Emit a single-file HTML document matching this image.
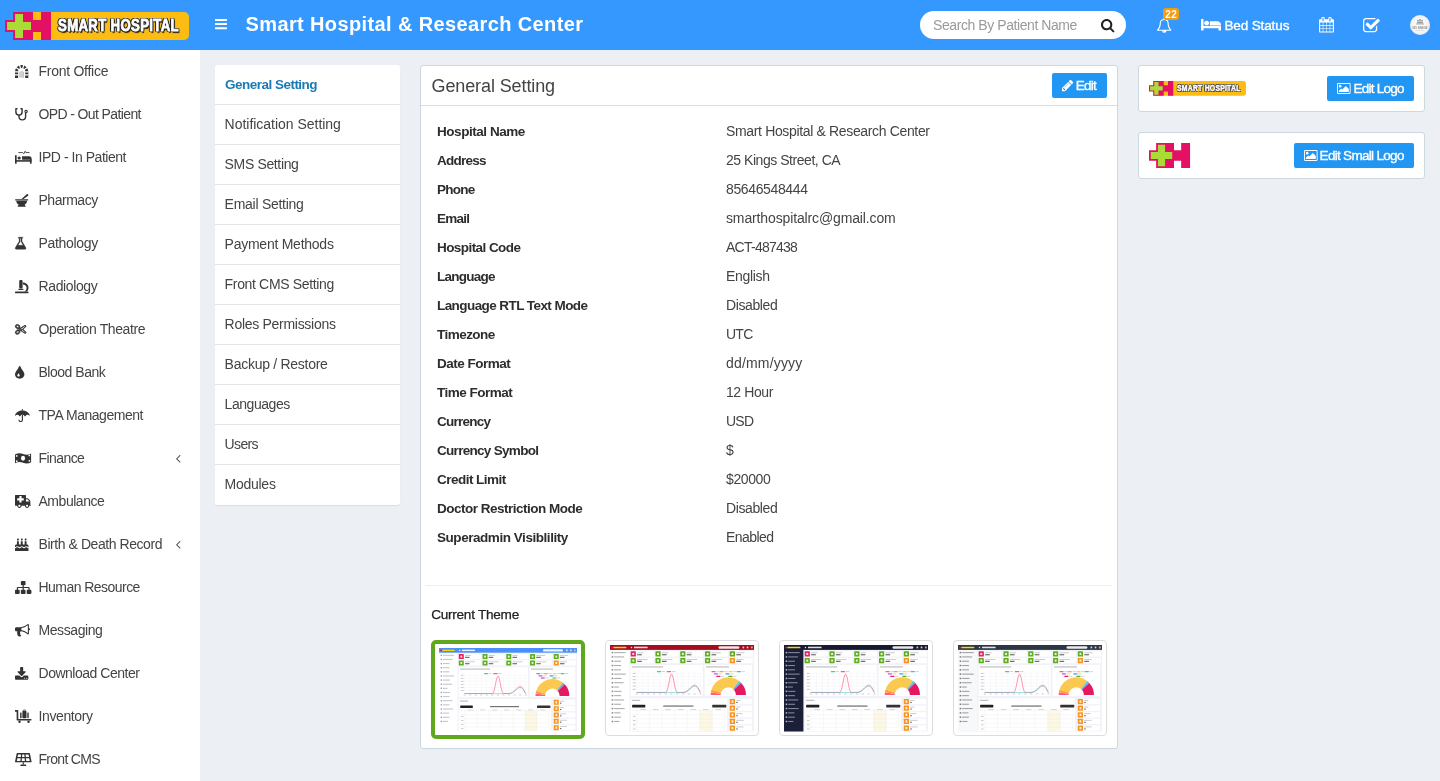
<!DOCTYPE html>
<html lang="en"><head><meta charset="utf-8"><title>General Setting</title>
<style>
html,body{margin:0;padding:0}
body{width:1440px;height:781px;overflow:hidden;background:#ecf0f5;font-family:"Liberation Sans",sans-serif;font-size:14px;color:#444;position:relative}
.t{position:absolute;white-space:nowrap;display:block}
.i{position:absolute;display:block;overflow:visible}
.abs{position:absolute;box-sizing:border-box}
#hdr{left:0;top:0;width:1440px;height:50px;background:#3598fe}
#side{left:0;top:50px;width:200px;height:731px;background:#fff}
.box{background:#fff;border:1px solid #cbd8e0;border-radius:3px}
.btn{background:#2196f3;border-radius:2px}
.mi{left:215px;width:185px;height:40px;background:#fff;border-bottom:1px solid #e2e2e2}
.th{border:1px solid #ddd;border-radius:4px;background:#fff}
</style></head><body>

<div class="abs" id="hdr"></div>
<div class="abs" id="side"></div>
<svg class="i" style="left:5px;top:12px;width:184.00px;height:28.00px" viewBox="0 0 184 28"><path fill="#fdbc12" d="M8 0H179a5 5 0 0 1 5 5V23a5 5 0 0 1-5 5H8z"/><path fill="#e31063" d="M8 0H28V8H36V0H46V28H36V20H28V28H8V20H0V8H8z"/><path fill="#a9dc37" d="M10 2H18V10H26V18H18V26H10V18H2V10H10z"/></svg>
<span class="t" id="t0" style="left:58.3px;top:18.11px;font-size:15.7px;line-height:15.7px;color:#fff;font-weight:bold;letter-spacing:0.407px;-webkit-text-stroke:.8px #fff;text-shadow:-1.2px -1.2px 0 #222,1.2px -1.2px 0 #222,-1.2px 1.2px 0 #222,1.2px 1.2px 0 #222,0 1.4px 0 #222,0 -1.4px 0 #222,1.5px 0 0 #222,-1.5px 0 0 #222,1.4px 1.8px 1px #222;transform-origin:0 0;transform:scaleX(.84);">SMART HOSPITAL</span>
<svg class="i" style="left:215px;top:19.3px;width:12.00px;height:10.20px" viewBox="0.0 -1280.0 1536 1280" preserveAspectRatio="none"><path fill="#fff" transform="scale(1,-1)" d="M1536 192C1536 227 1507 256 1472 256H64C29 256 0 227 0 192V64C0 29 29 0 64 0H1472C1507 0 1536 29 1536 64ZM1536 704C1536 739 1507 768 1472 768H64C29 768 0 739 0 704V576C0 541 29 512 64 512H1472C1507 512 1536 541 1536 576ZM1536 1216C1536 1251 1507 1280 1472 1280H64C29 1280 0 1251 0 1216V1088C0 1053 29 1024 64 1024H1472C1507 1024 1536 1053 1536 1088Z"/></svg>
<span class="t" id="t1" style="left:245.5px;top:14.07px;font-size:20px;line-height:20px;color:#fff;font-weight:bold;letter-spacing:0.382px;">Smart Hospital &amp; Research Center</span>
<div class="abs" style="left:920px;top:11px;width:206px;height:28px;border-radius:14px;background:#fff"></div>
<span class="t" id="t2" style="left:933px;top:18.15px;font-size:14px;line-height:14px;color:#9a9a9a;letter-spacing:-0.424px;">Search By Patient Name</span>
<svg class="i" style="left:1101.3px;top:18.6px;width:13.40px;height:13.40px" viewBox="0.0 -1408.0 1664 1664" preserveAspectRatio="none"><path fill="#222" transform="scale(1,-1)" d="M1152 704C1152 457 951 256 704 256C457 256 256 457 256 704C256 951 457 1152 704 1152C951 1152 1152 951 1152 704ZM1664 -128C1664 -94 1650 -61 1627 -38L1284 305C1365 422 1408 562 1408 704C1408 1093 1093 1408 704 1408C315 1408 0 1093 0 704C0 315 315 0 704 0C846 0 986 43 1103 124L1446 -218C1469 -242 1502 -256 1536 -256C1606 -256 1664 -198 1664 -128Z"/></svg>
<svg class="i" style="left:1157px;top:17.6px;width:14.40px;height:14.80px" viewBox="64.0 -1536.0 1664 1792" preserveAspectRatio="none"><path fill="#fff" transform="scale(1,-1)" d="M912 -160C912 -169 905 -176 896 -176C799 -176 720 -97 720 0C720 9 727 16 736 16C745 16 752 9 752 0C752 -79 817 -144 896 -144C905 -144 912 -151 912 -160ZM246 128C425 330 512 604 512 960C512 1089 634 1280 896 1280C1158 1280 1280 1089 1280 960C1280 604 1367 330 1546 128ZM1728 128C1580 253 1408 477 1408 960C1408 1152 1249 1362 984 1401C989 1413 992 1426 992 1440C992 1493 949 1536 896 1536C843 1536 800 1493 800 1440C800 1426 803 1413 808 1401C543 1362 384 1152 384 960C384 477 212 253 64 128C64 58 122 0 192 0H640C640 -141 755 -256 896 -256C1037 -256 1152 -141 1152 0H1600C1670 0 1728 58 1728 128Z"/></svg>
<div class="abs" style="left:1163px;top:8px;width:16px;height:12px;border-radius:3px;background:#f39c12"></div>
<span class="t" id="t3" style="left:1165.3px;top:9.54px;font-size:10px;line-height:10px;color:#fff;font-weight:bold;letter-spacing:0.475px;">22</span>
<svg class="i" style="left:1200.8px;top:18.8px;width:20.00px;height:11.60px" viewBox="0.0 -1280.0 2048 1280" preserveAspectRatio="none"><path fill="#fff" transform="scale(1,-1)" d="M256 512V1216C256 1251 227 1280 192 1280H64C29 1280 0 1251 0 1216V0H256V256H1792V0H2048V448C2048 483 2019 512 1984 512ZM832 832C832 691 717 576 576 576C435 576 320 691 320 832C320 973 435 1088 576 1088C717 1088 832 973 832 832ZM2048 576H896V960C896 995 925 1024 960 1024H1664C1876 1024 2048 852 2048 640Z"/></svg>
<span class="t" id="t4" style="left:1224.4px;top:18.57px;font-size:13.5px;line-height:13.5px;color:#fff;letter-spacing:-0.116px;-webkit-text-stroke:.35px #fff;">Bed Status</span>
<svg class="i" style="left:1319.2px;top:16.8px;width:15.00px;height:15.60px" viewBox="0.0 -1536.0 1664 1792" preserveAspectRatio="none"><path fill="#fff" transform="scale(1,-1)" d="M128 -128V160H416V-128ZM480 -128V160H800V-128ZM128 224V544H416V224ZM480 224V544H800V224ZM128 608V896H416V608ZM864 -128V160H1184V-128ZM480 608V896H800V608ZM1248 -128V160H1536V-128ZM864 224V544H1184V224ZM512 1088C512 1071 497 1056 480 1056H416C399 1056 384 1071 384 1088V1376C384 1393 399 1408 416 1408H480C497 1408 512 1393 512 1376V1088ZM1248 224V544H1536V224ZM864 608V896H1184V608ZM1248 608V896H1536V608ZM1280 1088C1280 1071 1265 1056 1248 1056H1184C1167 1056 1152 1071 1152 1088V1376C1152 1393 1167 1408 1184 1408H1248C1265 1408 1280 1393 1280 1376V1088ZM1664 1152C1664 1222 1606 1280 1536 1280H1408V1376C1408 1464 1336 1536 1248 1536H1184C1096 1536 1024 1464 1024 1376V1280H640V1376C640 1464 568 1536 480 1536H416C328 1536 256 1464 256 1376V1280H128C58 1280 0 1222 0 1152V-128C0 -198 58 -256 128 -256H1536C1606 -256 1664 -198 1664 -128Z"/></svg>
<svg class="i" style="left:1363.3px;top:17.8px;width:16.80px;height:14.20px" viewBox="0.0 -1408.0 1663.0 1408" preserveAspectRatio="none"><path fill="#fff" transform="scale(1,-1)" d="M1408 606C1408 619 1400 630 1388 635C1384 637 1380 638 1376 638C1368 638 1360 635 1353 628L1289 564C1283 558 1280 550 1280 542V288C1280 200 1208 128 1120 128H288C200 128 128 200 128 288V1120C128 1208 200 1280 288 1280H1120C1135 1280 1150 1278 1165 1274C1168 1273 1171 1272 1174 1272C1182 1272 1191 1276 1197 1282L1246 1331C1254 1339 1257 1349 1255 1360C1253 1370 1246 1379 1237 1383C1200 1400 1160 1408 1120 1408H288C129 1408 0 1279 0 1120V288C0 129 129 0 288 0H1120C1279 0 1408 129 1408 288ZM1639 1095C1671 1127 1671 1177 1639 1209L1529 1319C1497 1351 1447 1351 1415 1319L768 672L505 935C473 967 423 967 391 935L281 825C249 793 249 743 281 711L711 281C743 249 793 249 825 281L1639 1095Z"/></svg>
<svg class="i" style="left:1410px;top:15px;width:20px;height:20px" viewBox="0 0 20 20"><defs><radialGradient id="av"><stop offset="0" stop-color="#fff"/><stop offset=".7" stop-color="#f6f6f6"/><stop offset="1" stop-color="#ececec"/></radialGradient></defs><circle cx="10" cy="10" r="10" fill="url(#av)"/><g fill="#9a9a9a"><circle cx="10" cy="5" r="1.1"/><circle cx="7.9" cy="5.6" r=".9"/><circle cx="12.1" cy="5.6" r=".9"/><path d="M6.6 8.6c0-1.6 1-2.2 3.4-2.2s3.4.6 3.4 2.2z"/><rect x="6" y="8.7" width="8" height=".7"/><rect x="6" y="15.1" width="8" height=".4" opacity=".6"/></g><text x="10" y="13.6" text-anchor="middle" font-family="Liberation Sans, sans-serif" font-weight="bold" font-size="3" fill="#8d8d8d">NO IMAGE</text></svg>
<span class="t" id="t5" style="left:38.5px;top:64.15px;font-size:14px;line-height:14px;color:#444;letter-spacing:-0.263px;">Front Office</span>
<span class="t" id="t6" style="left:38.5px;top:107.15px;font-size:14px;line-height:14px;color:#444;letter-spacing:-0.614px;">OPD - Out Patient</span>
<span class="t" id="t7" style="left:38.5px;top:150.15px;font-size:14px;line-height:14px;color:#444;letter-spacing:-0.463px;">IPD - In Patient</span>
<span class="t" id="t8" style="left:38.5px;top:193.15px;font-size:14px;line-height:14px;color:#444;letter-spacing:-0.476px;">Pharmacy</span>
<span class="t" id="t9" style="left:38.5px;top:236.15px;font-size:14px;line-height:14px;color:#444;letter-spacing:-0.323px;">Pathology</span>
<span class="t" id="t10" style="left:38.5px;top:279.15px;font-size:14px;line-height:14px;color:#444;letter-spacing:-0.383px;">Radiology</span>
<span class="t" id="t11" style="left:38.5px;top:322.15px;font-size:14px;line-height:14px;color:#444;letter-spacing:-0.398px;">Operation Theatre</span>
<span class="t" id="t12" style="left:38.5px;top:365.15px;font-size:14px;line-height:14px;color:#444;letter-spacing:-0.479px;">Blood Bank</span>
<span class="t" id="t13" style="left:38.5px;top:408.15px;font-size:14px;line-height:14px;color:#444;letter-spacing:-0.464px;">TPA Management</span>
<span class="t" id="t14" style="left:38.5px;top:451.15px;font-size:14px;line-height:14px;color:#444;letter-spacing:-0.569px;">Finance</span>
<span class="t" id="t15" style="left:38.5px;top:494.15px;font-size:14px;line-height:14px;color:#444;letter-spacing:-0.468px;">Ambulance</span>
<span class="t" id="t16" style="left:38.5px;top:537.15px;font-size:14px;line-height:14px;color:#444;letter-spacing:-0.437px;">Birth &amp; Death Record</span>
<span class="t" id="t17" style="left:38.5px;top:580.15px;font-size:14px;line-height:14px;color:#444;letter-spacing:-0.541px;">Human Resource</span>
<span class="t" id="t18" style="left:38.5px;top:623.15px;font-size:14px;line-height:14px;color:#444;letter-spacing:-0.413px;">Messaging</span>
<span class="t" id="t19" style="left:38.5px;top:666.15px;font-size:14px;line-height:14px;color:#444;letter-spacing:-0.484px;">Download Center</span>
<span class="t" id="t20" style="left:38.5px;top:709.15px;font-size:14px;line-height:14px;color:#444;letter-spacing:-0.387px;">Inventory</span>
<span class="t" id="t21" style="left:38.5px;top:752.15px;font-size:14px;line-height:14px;color:#444;letter-spacing:-0.711px;">Front CMS</span>
<svg class="i" style="left:14.9px;top:64.7px;width:13.3px;height:13px" viewBox="0 0 512 512" preserveAspectRatio="none"><path d="M60 512V256a196 196 0 0 1 392 0V512" fill="none" stroke="#333" stroke-width="120"/><path d="M353 185L474 97 M293 142L339 -1 M219 142L173 -1 M159 185L38 97 M0 268H130M382 268H512M0 392H130M382 392H512" stroke="#fff" stroke-width="46" fill="none"/><path d="M186 500V270M232 500V230M280 500V230M326 500V270" stroke="#333" stroke-width="20" fill="none" opacity=".6"/></svg><svg class="i" style="left:14.9px;top:107.9px;width:13.5px;height:12.6px" viewBox="0 0 135 126" preserveAspectRatio="none"><g fill="none" stroke="#333" stroke-width="14" stroke-linecap="round" stroke-linejoin="round"><path d="M20 8H9V40a31 31 0 0 0 62 0V8H60"/>
<path d="M40 72V86a33 33 0 0 0 66 0V52"/><circle cx="111" cy="36" r="12" stroke-width="11"/></g></svg><svg class="i" style="left:14.9px;top:150.9px;width:16.6px;height:12.7px" viewBox="0 0 640 512" preserveAspectRatio="none"><g fill="#333"><rect x="0" y="170" width="64" height="342"/><rect x="0" y="368" width="640" height="64"/><rect x="576" y="330" width="64" height="182"/>
<path d="M272 208H540a100 100 0 0 1 100 100V352H272z"/><circle cx="160" cy="280" r="62"/></g>
<path d="M130 64H300L340 110L390 10L420 64H560" fill="none" stroke="#333" stroke-width="34" stroke-linejoin="round"/></svg><svg class="i" style="left:14.9px;top:193.9px;width:13.3px;height:12.7px" viewBox="0 0 512 512" preserveAspectRatio="none"><g fill="#333"><path d="M500 10a40 40 0 0 1 4 56L330 200H250L450 14a40 40 0 0 1 50-4z"/>
<rect x="0" y="208" width="512" height="56" rx="20"/>
<path d="M48 272H464c0 80-40 130-96 160l40 50v30H104v-30l40-50C88 402 48 352 48 272z"/></g></svg><svg class="i" style="left:15.2px;top:236.9px;width:11.20px;height:12.50px" viewBox="77.95903300497424 -1433.0 1508.0819339900515 1586" preserveAspectRatio="none"><path fill="#333" stroke="#333" stroke-width="50" stroke-linejoin="round" transform="scale(1,-1)" d="M1527 88 1024 881V1280H1088C1123 1280 1152 1309 1152 1344C1152 1379 1123 1408 1088 1408H576C541 1408 512 1379 512 1344C512 1309 541 1280 576 1280H640V881L137 88C62 -31 115 -128 256 -128H1408C1549 -128 1602 -31 1527 88ZM748 813 768 844V881V1280H896V881V844L916 813L1188 384H476Z"/></svg><svg class="i" style="left:14.9px;top:279.6px;width:13.5px;height:13.2px" viewBox="0 0 512 512" preserveAspectRatio="none"><g fill="#333"><rect x="160" y="0" width="128" height="330" rx="40"/><rect x="130" y="340" width="188" height="44" rx="10"/>
<rect x="0" y="448" width="512" height="64" rx="16"/>
<path d="M300 100c120 0 212 90 212 200 0 70-30 120-70 150H350c50-30 90-80 90-150 0-70-60-130-140-130z"/></g></svg><svg class="i" style="left:15.1px;top:323.5px;width:11.50px;height:10.70px" viewBox="-55.02830677857321 -1335.0 1902.3025556225034 1518" preserveAspectRatio="none"><path fill="#333" stroke="#333" stroke-width="110" stroke-linejoin="round" transform="scale(1,-1)" d="M960 640C925 640 896 611 896 576C896 541 925 512 960 512C995 512 1024 541 1024 576C1024 611 995 640 960 640ZM1260 576 1767 974C1785 987 1794 1009 1792 1030C1789 1052 1776 1071 1757 1081L1629 1145C1620 1150 1610 1152 1600 1152C1589 1152 1578 1149 1569 1144L879 757L769 823C765 825 761 827 757 828C766 859 770 892 767 925C758 1028 689 1127 579 1196C494 1250 396 1280 302 1280C212 1280 136 1253 80 1201C23 1149 -6 1073 1 995C10 893 79 794 188 724C273 670 372 640 466 640C522 640 573 651 617 671C623 662 630 655 639 649L761 576L639 503C630 497 623 490 617 481C573 501 522 512 466 512C372 512 273 482 188 428C79 358 10 259 1 157C-6 79 23 3 80 -50C136 -101 212 -128 302 -128C396 -128 494 -98 579 -44C689 26 758 124 767 227C770 260 766 293 757 324C761 325 765 327 769 329L879 395L1569 8C1578 3 1589 0 1600 0C1610 0 1620 2 1629 7L1757 71C1776 81 1789 100 1792 122C1794 143 1785 165 1767 178ZM579 836C553 812 512 800 466 800C405 800 335 820 274 859C166 927 128 1028 189 1084C215 1108 256 1120 302 1120C362 1120 433 1100 494 1061C602 993 640 892 579 836ZM494 91C433 52 362 32 302 32C256 32 215 44 189 68C128 124 166 225 274 293C335 332 405 352 466 352C512 352 553 340 579 316C640 260 602 159 494 91ZM672 704 681 713C683 715 685 716 688 719C696 726 702 734 710 742L736 768L815 721L801 713C781 701 768 680 768 657V646ZM896 480 736 384 710 410C702 418 696 426 688 434C685 436 683 437 681 440L672 448L832 544V657L1600 1088L1728 1024L992 448ZM1600 64 1018 391C1023 393 1028 394 1031 398L1208 536L1728 128Z"/></svg><svg class="i" style="left:14.9px;top:365.6px;width:9.40px;height:12.80px" viewBox="0.0 -1472.0 1024 1472" preserveAspectRatio="none"><path fill="#333" transform="scale(1,-1)" d="M512 384C512 313 455 256 384 256C313 256 256 313 256 384C256 409 264 433 276 453C289 473 342 541 363 608C366 619 376 624 384 624C392 624 402 619 405 608C426 541 479 473 492 453C504 433 512 409 512 384ZM1024 512C1024 613 994 707 943 787C892 867 678 1138 597 1408C585 1451 544 1472 512 1472C480 1472 440 1451 427 1408C346 1138 132 867 81 787C31 707 0 613 0 512C0 229 229 0 512 0C795 0 1024 229 1024 512Z"/></svg><svg class="i" style="left:14.9px;top:408.6px;width:14.80px;height:13.00px" viewBox="0.0 -1472.0 1664 1600" preserveAspectRatio="none"><path fill="#333" transform="scale(1,-1)" d="M896 708C875 715 854 719 832 719C810 719 789 715 768 708V128C768 61 707 0 640 0C573 0 512 61 512 128C512 163 483 192 448 192C413 192 384 163 384 128C384 -11 501 -128 640 -128C779 -128 896 -11 896 128ZM1664 681C1664 684 1664 686 1663 688C1573 1066 1204 1280 832 1280C458 1280 93 1066 1 688C0 686 0 684 0 681C0 664 15 649 32 649C41 649 48 653 55 659C113 713 167 751 250 751C345 751 427 692 481 617C493 600 502 582 513 565C520 554 528 548 541 548C555 548 563 554 570 565C581 582 590 600 602 617C656 692 737 751 832 751C927 751 1008 692 1062 617C1074 600 1083 582 1094 565C1101 554 1109 548 1123 548C1136 548 1144 554 1151 565C1162 582 1171 600 1183 617C1237 692 1319 751 1414 751C1497 751 1551 713 1609 659C1616 653 1623 649 1632 649C1649 649 1664 664 1664 681ZM896 1408C896 1443 867 1472 832 1472C797 1472 768 1443 768 1408V1310C789 1311 811 1312 832 1312C853 1312 875 1311 896 1310Z"/></svg><svg class="i" style="left:14.9px;top:452.5px;width:16.1px;height:10.7px" viewBox="0 0 640 420" preserveAspectRatio="none"><path fill="#333" d="M0 60C110 0 210 0 320 40S530 80 640 20V360C530 420 430 420 320 380S110 340 0 400z"/>
<ellipse cx="320" cy="210" rx="82" ry="98" fill="#fff"/>
<circle cx="70" cy="115" r="34" fill="#fff"/><circle cx="570" cy="95" r="34" fill="#fff"/><circle cx="70" cy="320" r="34" fill="#fff"/><circle cx="570" cy="305" r="34" fill="#fff"/></svg><svg class="i" style="left:15.1px;top:494.6px;width:15.90px;height:13.00px" viewBox="64.0 -1408.0 1856 1536" preserveAspectRatio="none"><path fill="#333" transform="translate(1984,0) scale(-1,-1)" d="M640 128C640 57 583 0 512 0C441 0 384 57 384 128C384 199 441 256 512 256C583 256 640 199 640 128ZM256 640V670C257 676 262 687 265 692L460 887C465 891 476 895 482 896H640V640ZM1536 128C1536 57 1479 0 1408 0C1337 0 1280 57 1280 128C1280 199 1337 256 1408 256C1479 256 1536 199 1536 128ZM1664 800C1664 782 1650 768 1632 768H1408V544C1408 526 1394 512 1376 512H1184C1166 512 1152 526 1152 544V768H928C910 768 896 782 896 800V992C896 1010 910 1024 928 1024H1152V1248C1152 1266 1166 1280 1184 1280H1376C1394 1280 1408 1266 1408 1248V1024H1632C1650 1024 1664 1010 1664 992V800ZM1920 1344C1920 1379 1891 1408 1856 1408H704C669 1408 640 1379 640 1344V1024H480C445 1024 396 1004 371 979L173 781C148 756 128 707 128 672V256C93 256 64 227 64 192C64 157 93 128 128 128H256C256 -13 370 -128 512 -128C654 -128 768 -13 768 128H1152C1152 -13 1267 -128 1408 -128C1550 -128 1664 -13 1664 128H1856C1891 128 1920 157 1920 192Z"/></svg><svg class="i" style="left:14.9px;top:537.9px;width:13.50px;height:12.90px" viewBox="0.0 -1536.0 1792 1792" preserveAspectRatio="none"><path fill="#333" transform="scale(1,-1)" d="M1792 128C1694 128 1642 172 1601 207C1567 237 1544 256 1494 256C1443 256 1420 237 1386 207C1345 172 1293 128 1195 128C1097 128 1045 172 1004 207C970 237 947 256 896 256C845 256 823 237 789 207C747 172 696 128 598 128C499 128 448 172 407 207C372 237 350 256 299 256C248 256 225 237 191 207C150 172 98 128 0 128V-256H1792ZM1792 448C1792 554 1706 640 1600 640H1536V1088H1280V640H1024V1088H768V640H512V1088H256V640H192C86 640 0 554 0 448V256C51 256 74 275 108 305C149 340 200 384 299 384C397 384 449 340 490 305C524 275 547 256 598 256C649 256 671 275 705 305C747 340 798 384 896 384C995 384 1046 340 1087 305C1121 275 1144 256 1195 256C1246 256 1268 275 1303 305C1344 340 1395 384 1494 384C1592 384 1643 340 1684 305C1719 275 1741 256 1792 256ZM512 1312C512 1418 432 1536 384 1536C384 1372 256 1404 256 1280C256 1209 313 1152 384 1152C455 1152 512 1206 512 1312ZM1024 1312C1024 1418 944 1536 896 1536C896 1372 768 1404 768 1280C768 1209 825 1152 896 1152C967 1152 1024 1206 1024 1312ZM1536 1312C1536 1418 1456 1536 1408 1536C1408 1372 1280 1404 1280 1280C1280 1209 1337 1152 1408 1152C1479 1152 1536 1206 1536 1312Z"/></svg><svg class="i" style="left:14.9px;top:580.6px;width:16.40px;height:13.00px" viewBox="0.0 -1408.0 1792 1536" preserveAspectRatio="none"><path fill="#333" transform="scale(1,-1)" d="M1792 288C1792 341 1749 384 1696 384H1600V576C1600 646 1542 704 1472 704H960V896H1056C1109 896 1152 939 1152 992V1312C1152 1365 1109 1408 1056 1408H736C683 1408 640 1365 640 1312V992C640 939 683 896 736 896H832V704H320C250 704 192 646 192 576V384H96C43 384 0 341 0 288V-32C0 -85 43 -128 96 -128H416C469 -128 512 -85 512 -32V288C512 341 469 384 416 384H320V576H832V384H736C683 384 640 341 640 288V-32C640 -85 683 -128 736 -128H1056C1109 -128 1152 -85 1152 -32V288C1152 341 1109 384 1056 384H960V576H1472V384H1376C1323 384 1280 341 1280 288V-32C1280 -85 1323 -128 1376 -128H1696C1749 -128 1792 -85 1792 -32Z"/></svg><svg class="i" style="left:14.9px;top:623.9px;width:15.00px;height:12.50px" viewBox="0.0 -1408.0 1792 1535.8903772551337" preserveAspectRatio="none"><path fill="#333" transform="scale(1,-1)" d="M1664 896V1280C1664 1350 1606 1408 1536 1408C1344 1248 1024 1024 640 1024H160C72 1024 0 952 0 864V672C0 584 72 512 160 512H282C212 287 298 109 356 -69C448 -154 706 -152 768 -30C662 53 572 134 642 249C564 329 605 468 724 508C1071 479 1358 276 1536 128C1606 128 1664 186 1664 256V640C1735 640 1792 697 1792 768C1792 839 1735 896 1664 896ZM1536 292C1275 492 1022 605 768 633V903C1022 931 1275 1046 1536 1246Z"/></svg><svg class="i" style="left:14.9px;top:666.9px;width:13.30px;height:12.80px" viewBox="0.0 -1536.0 1664 1536" preserveAspectRatio="none"><path fill="#333" transform="scale(1,-1)" d="M1280 192C1280 157 1251 128 1216 128C1181 128 1152 157 1152 192C1152 227 1181 256 1216 256C1251 256 1280 227 1280 192ZM1536 192C1536 157 1507 128 1472 128C1437 128 1408 157 1408 192C1408 227 1437 256 1472 256C1507 256 1536 227 1536 192ZM1664 416C1664 469 1621 512 1568 512H1104L968 376C931 340 883 320 832 320C781 320 733 340 696 376L561 512H96C43 512 0 469 0 416V96C0 43 43 0 96 0H1568C1621 0 1664 43 1664 96ZM1339 985C1329 1008 1306 1024 1280 1024H1024V1472C1024 1507 995 1536 960 1536H704C669 1536 640 1507 640 1472V1024H384C358 1024 335 1008 325 985C315 961 320 933 339 915L787 467C799 454 816 448 832 448C848 448 865 454 877 467L1325 915C1344 933 1349 961 1339 985Z"/></svg><svg class="i" style="left:14.9px;top:709.6px;width:16.4px;height:13px" viewBox="0 0 640 512" preserveAspectRatio="none"><g fill="#333"><path d="M0 0H110a18 18 0 0 1 18 18V352H640v64H82a18 18 0 0 1-18-18V64H0z"/>
<circle cx="176" cy="464" r="48"/><circle cx="528" cy="464" r="48"/>
<rect x="288" y="40" width="160" height="280" rx="24"/><rect x="200" y="96" width="56" height="224" rx="20"/><rect x="480" y="96" width="56" height="224" rx="20"/></g>
<rect x="322" y="0" width="92" height="70" rx="18" fill="none" stroke="#333" stroke-width="30"/></svg><svg class="i" style="left:14.9px;top:752.6px;width:16.6px;height:13.1px" viewBox="0 0 640 512" preserveAspectRatio="none"><path fill="#333" d="M92 0H548a30 30 0 0 1 30 25L638 330a30 30 0 0 1-30 36H32a30 30 0 0 1-30-36L62 25A30 30 0 0 1 92 0z"/>
<g fill="#fff"><path d="M118 56H232L222 156H100z"/><path d="M280 56H360L368 156H272z"/><path d="M408 56H522L540 156H418z"/>
<path d="M92 204H218L206 310H72z"/><path d="M268 204H372L382 310H258z"/><path d="M422 204H548L568 310H434z"/></g>
<g fill="#333"><rect x="296" y="366" width="48" height="80"/><rect x="208" y="448" width="224" height="64" rx="24"/></g></svg>
<svg class="i" style="left:175.6px;top:454.9px;width:4.50px;height:7.70px" viewBox="45.0 -1075.0 582 998" preserveAspectRatio="none"><path fill="#555" transform="scale(1,-1)" d="M627 992C627 1001 623 1009 617 1015L567 1065C561 1071 552 1075 544 1075C536 1075 527 1071 521 1065L55 599C49 593 45 584 45 576C45 568 49 559 55 553L521 87C527 81 536 77 544 77C552 77 561 81 567 87L617 137C623 143 627 152 627 160C627 168 623 177 617 183L224 576L617 969C623 975 627 984 627 992Z"/></svg>
<svg class="i" style="left:175.6px;top:540.9px;width:4.50px;height:7.70px" viewBox="45.0 -1075.0 582 998" preserveAspectRatio="none"><path fill="#555" transform="scale(1,-1)" d="M627 992C627 1001 623 1009 617 1015L567 1065C561 1071 552 1075 544 1075C536 1075 527 1071 521 1065L55 599C49 593 45 584 45 576C45 568 49 559 55 553L521 87C527 81 536 77 544 77C552 77 561 81 567 87L617 137C623 143 627 152 627 160C627 168 623 177 617 183L224 576L617 969C623 975 627 984 627 992Z"/></svg>
<div class="abs" style="left:215px;top:65px;width:185px;height:440px;background:#fff;border-radius:3px;overflow:hidden;box-shadow:0 1px 1px rgba(0,0,0,.08)"></div>
<div class="abs" style="left:215px;top:104px;width:185px;height:1px;background:#e4e4e4"></div>
<span class="t" id="t22" style="left:225px;top:77.57px;font-size:13.5px;line-height:13.5px;color:#1b7bb4;font-weight:bold;letter-spacing:-0.513px;">General Setting</span>
<div class="abs" style="left:215px;top:144px;width:185px;height:1px;background:#e4e4e4"></div>
<span class="t" id="t23" style="left:224.6px;top:117.15px;font-size:14px;line-height:14px;color:#444;letter-spacing:-0.023px;">Notification Setting</span>
<div class="abs" style="left:215px;top:184px;width:185px;height:1px;background:#e4e4e4"></div>
<span class="t" id="t24" style="left:224.6px;top:157.15px;font-size:14px;line-height:14px;color:#444;letter-spacing:-0.353px;">SMS Setting</span>
<div class="abs" style="left:215px;top:224px;width:185px;height:1px;background:#e4e4e4"></div>
<span class="t" id="t25" style="left:224.6px;top:197.15px;font-size:14px;line-height:14px;color:#444;letter-spacing:-0.265px;">Email Setting</span>
<div class="abs" style="left:215px;top:264px;width:185px;height:1px;background:#e4e4e4"></div>
<span class="t" id="t26" style="left:224.6px;top:237.15px;font-size:14px;line-height:14px;color:#444;letter-spacing:-0.253px;">Payment Methods</span>
<div class="abs" style="left:215px;top:304px;width:185px;height:1px;background:#e4e4e4"></div>
<span class="t" id="t27" style="left:224.6px;top:277.15px;font-size:14px;line-height:14px;color:#444;letter-spacing:-0.341px;">Front CMS Setting</span>
<div class="abs" style="left:215px;top:344px;width:185px;height:1px;background:#e4e4e4"></div>
<span class="t" id="t28" style="left:224.6px;top:317.15px;font-size:14px;line-height:14px;color:#444;letter-spacing:-0.290px;">Roles Permissions</span>
<div class="abs" style="left:215px;top:384px;width:185px;height:1px;background:#e4e4e4"></div>
<span class="t" id="t29" style="left:224.6px;top:357.15px;font-size:14px;line-height:14px;color:#444;letter-spacing:-0.273px;">Backup / Restore</span>
<div class="abs" style="left:215px;top:424px;width:185px;height:1px;background:#e4e4e4"></div>
<span class="t" id="t30" style="left:224.6px;top:397.15px;font-size:14px;line-height:14px;color:#444;letter-spacing:-0.450px;">Languages</span>
<div class="abs" style="left:215px;top:464px;width:185px;height:1px;background:#e4e4e4"></div>
<span class="t" id="t31" style="left:224.6px;top:437.15px;font-size:14px;line-height:14px;color:#444;letter-spacing:-0.641px;">Users</span>
<span class="t" id="t32" style="left:224.6px;top:477.15px;font-size:14px;line-height:14px;color:#444;letter-spacing:-0.270px;">Modules</span>
<div class="abs box" style="left:420px;top:65px;width:698px;height:684px"></div>
<div class="abs" style="left:421px;top:105px;width:696px;height:1px;background:#d3dee6"></div>
<span class="t" id="t33" style="left:431.5px;top:76.76px;font-size:18px;line-height:18px;color:#444;letter-spacing:-0.106px;">General Setting</span>
<div class="abs btn" style="left:1052px;top:73px;width:55px;height:25px"></div>
<svg class="i" style="left:1062px;top:80.2px;width:11.20px;height:11.20px" viewBox="0.0 -1387.0 1515 1515" preserveAspectRatio="none"><path fill="#fff" transform="scale(1,-1)" d="M363 0H256V128H128V235L219 326L454 91ZM886 928C886 922 884 916 879 911L337 369C332 364 326 362 320 362C307 362 298 371 298 384C298 390 300 396 305 401L847 943C852 948 858 950 864 950C877 950 886 941 886 928ZM832 1120 0 288V-128H416L1248 704ZM1515 1024C1515 1058 1501 1091 1478 1115L1243 1349C1219 1373 1186 1387 1152 1387C1118 1387 1085 1373 1062 1349L896 1184L1312 768L1478 934C1501 957 1515 990 1515 1024Z"/></svg>
<span class="t" id="t34" style="left:1075.7px;top:78.57px;font-size:13.5px;line-height:13.5px;color:#fff;letter-spacing:-0.750px;-webkit-text-stroke:.35px #fff;">Edit</span>
<span class="t" id="t35" style="left:437px;top:124.57px;font-size:13.5px;line-height:13.5px;color:#2d2d2d;font-weight:bold;letter-spacing:-0.457px;">Hospital Name</span>
<span class="t" id="t36" style="left:726px;top:124.15px;font-size:14px;line-height:14px;color:#444;letter-spacing:-0.347px;">Smart Hospital &amp; Research Center</span>
<span class="t" id="t37" style="left:437px;top:153.57px;font-size:13.5px;line-height:13.5px;color:#2d2d2d;font-weight:bold;letter-spacing:-0.750px;">Address</span>
<span class="t" id="t38" style="left:726px;top:153.15px;font-size:14px;line-height:14px;color:#444;letter-spacing:-0.459px;">25 Kings Street, CA</span>
<span class="t" id="t39" style="left:437px;top:182.57px;font-size:13.5px;line-height:13.5px;color:#2d2d2d;font-weight:bold;letter-spacing:-0.750px;">Phone</span>
<span class="t" id="t40" style="left:726px;top:182.15px;font-size:14px;line-height:14px;color:#444;letter-spacing:-0.366px;">85646548444</span>
<span class="t" id="t41" style="left:437px;top:211.57px;font-size:13.5px;line-height:13.5px;color:#2d2d2d;font-weight:bold;letter-spacing:-0.750px;">Email</span>
<span class="t" id="t42" style="left:726px;top:211.15px;font-size:14px;line-height:14px;color:#444;letter-spacing:-0.134px;">smarthospitalrc@gmail.com</span>
<span class="t" id="t43" style="left:437px;top:240.57px;font-size:13.5px;line-height:13.5px;color:#2d2d2d;font-weight:bold;letter-spacing:-0.564px;">Hospital Code</span>
<span class="t" id="t44" style="left:726px;top:240.15px;font-size:14px;line-height:14px;color:#444;letter-spacing:-0.750px;">ACT-487438</span>
<span class="t" id="t45" style="left:437px;top:269.57px;font-size:13.5px;line-height:13.5px;color:#2d2d2d;font-weight:bold;letter-spacing:-0.750px;">Language</span>
<span class="t" id="t46" style="left:726px;top:269.15px;font-size:14px;line-height:14px;color:#444;letter-spacing:-0.320px;">English</span>
<span class="t" id="t47" style="left:437px;top:298.57px;font-size:13.5px;line-height:13.5px;color:#2d2d2d;font-weight:bold;letter-spacing:-0.572px;">Language RTL Text Mode</span>
<span class="t" id="t48" style="left:726px;top:298.15px;font-size:14px;line-height:14px;color:#444;letter-spacing:-0.398px;">Disabled</span>
<span class="t" id="t49" style="left:437px;top:327.57px;font-size:13.5px;line-height:13.5px;color:#2d2d2d;font-weight:bold;letter-spacing:-0.531px;">Timezone</span>
<span class="t" id="t50" style="left:726px;top:327.15px;font-size:14px;line-height:14px;color:#444;letter-spacing:-0.750px;">UTC</span>
<span class="t" id="t51" style="left:437px;top:356.57px;font-size:13.5px;line-height:13.5px;color:#2d2d2d;font-weight:bold;letter-spacing:-0.507px;">Date Format</span>
<span class="t" id="t52" style="left:726px;top:356.15px;font-size:14px;line-height:14px;color:#444;letter-spacing:0.179px;">dd/mm/yyyy</span>
<span class="t" id="t53" style="left:437px;top:385.57px;font-size:13.5px;line-height:13.5px;color:#2d2d2d;font-weight:bold;letter-spacing:-0.508px;">Time Format</span>
<span class="t" id="t54" style="left:726px;top:385.15px;font-size:14px;line-height:14px;color:#444;letter-spacing:-0.419px;">12 Hour</span>
<span class="t" id="t55" style="left:437px;top:414.57px;font-size:13.5px;line-height:13.5px;color:#2d2d2d;font-weight:bold;letter-spacing:-0.750px;">Currency</span>
<span class="t" id="t56" style="left:726px;top:414.15px;font-size:14px;line-height:14px;color:#444;letter-spacing:-0.750px;">USD</span>
<span class="t" id="t57" style="left:437px;top:443.57px;font-size:13.5px;line-height:13.5px;color:#2d2d2d;font-weight:bold;letter-spacing:-0.700px;">Currency Symbol</span>
<span class="t" id="t58" style="left:726px;top:443.15px;font-size:14px;line-height:14px;color:#444;letter-spacing:0.000px;">$</span>
<span class="t" id="t59" style="left:437px;top:472.57px;font-size:13.5px;line-height:13.5px;color:#2d2d2d;font-weight:bold;letter-spacing:-0.520px;">Credit Limit</span>
<span class="t" id="t60" style="left:726px;top:472.15px;font-size:14px;line-height:14px;color:#444;letter-spacing:-0.404px;">$20000</span>
<span class="t" id="t61" style="left:437px;top:501.57px;font-size:13.5px;line-height:13.5px;color:#2d2d2d;font-weight:bold;letter-spacing:-0.503px;">Doctor Restriction Mode</span>
<span class="t" id="t62" style="left:726px;top:501.15px;font-size:14px;line-height:14px;color:#444;letter-spacing:-0.398px;">Disabled</span>
<span class="t" id="t63" style="left:437px;top:530.57px;font-size:13.5px;line-height:13.5px;color:#2d2d2d;font-weight:bold;letter-spacing:-0.452px;">Superadmin Visiblility</span>
<span class="t" id="t64" style="left:726px;top:530.15px;font-size:14px;line-height:14px;color:#444;letter-spacing:-0.565px;">Enabled</span>
<div class="abs" style="left:425px;top:585px;width:687px;height:1px;background:#eeeeee"></div>
<span class="t" id="t65" style="left:431.2px;top:608.29px;font-size:13.6px;line-height:13.6px;color:#222;letter-spacing:-0.264px;-webkit-text-stroke:.25px #222;">Current Theme</span>
<div class="abs" style="left:431px;top:640px;width:154px;height:99px;border:4px solid #5fa81d;border-radius:5px;background:#fff"></div><svg class="i" style="left:439px;top:648px;width:138px;height:83px;overflow:hidden" viewBox="0 0 138 83" preserveAspectRatio="none"><rect width="138" height="83" fill="#f1f3f9"/><rect width="18.6" height="83" fill="#ffffff"/><rect width="138" height="4.7" fill="#4b8ffa"/><rect x="1.2" y="1.6" width="1.6" height="1.6" fill="#e31063"/><rect x="3.2" y="1.7" width="12.5" height="1.4" rx=".5" fill="#f5d90a"/><rect x="20" y="1.8" width="1.2" height="1.2" fill="#fff" opacity=".9"/><rect x="23" y="1.6" width="13" height="1.5" fill="#fff" opacity=".85"/><rect x="104" y="1.2" width="20" height="2.4" rx="1.2" fill="#fff" opacity=".9"/><rect x="127" y="1.5" width="1.6" height="1.7" fill="#fff" opacity=".8"/><rect x="131" y="1.5" width="1.6" height="1.7" fill="#fff" opacity=".8"/><rect x="135" y="1.4" width="1.8" height="1.9" fill="#f0b0a0" opacity=".9"/><rect x="1.6" y="6.60" width="1.5" height="1.4" fill="#8a8f99" opacity=".8"/><rect x="4" y="6.80" width="11" height="1" fill="#8a8f99" opacity=".55"/><rect x="1.6" y="10.73" width="1.5" height="1.4" fill="#8a8f99" opacity=".8"/><rect x="4" y="10.93" width="9.5" height="1" fill="#8a8f99" opacity=".55"/><rect x="1.6" y="14.86" width="1.5" height="1.4" fill="#8a8f99" opacity=".8"/><rect x="4" y="15.06" width="6.5" height="1" fill="#8a8f99" opacity=".55"/><rect x="1.6" y="18.99" width="1.5" height="1.4" fill="#8a8f99" opacity=".8"/><rect x="4" y="19.19" width="6.5" height="1" fill="#8a8f99" opacity=".55"/><rect x="1.6" y="23.12" width="1.5" height="1.4" fill="#8a8f99" opacity=".8"/><rect x="4" y="23.32" width="6.5" height="1" fill="#8a8f99" opacity=".55"/><rect x="1.6" y="27.25" width="1.5" height="1.4" fill="#8a8f99" opacity=".8"/><rect x="4" y="27.45" width="11" height="1" fill="#8a8f99" opacity=".55"/><rect x="1.6" y="31.38" width="1.5" height="1.4" fill="#8a8f99" opacity=".8"/><rect x="4" y="31.58" width="7" height="1" fill="#8a8f99" opacity=".55"/><rect x="1.6" y="35.51" width="1.5" height="1.4" fill="#8a8f99" opacity=".8"/><rect x="4" y="35.71" width="9" height="1" fill="#8a8f99" opacity=".55"/><rect x="1.6" y="39.64" width="1.5" height="1.4" fill="#8a8f99" opacity=".8"/><rect x="4" y="39.84" width="4.5" height="1" fill="#8a8f99" opacity=".55"/><rect x="1.6" y="43.77" width="1.5" height="1.4" fill="#8a8f99" opacity=".8"/><rect x="4" y="43.97" width="7" height="1" fill="#8a8f99" opacity=".55"/><rect x="1.6" y="47.90" width="1.5" height="1.4" fill="#8a8f99" opacity=".8"/><rect x="4" y="48.10" width="6.5" height="1" fill="#8a8f99" opacity=".55"/><rect x="1.6" y="52.03" width="1.5" height="1.4" fill="#8a8f99" opacity=".8"/><rect x="4" y="52.23" width="9.5" height="1" fill="#8a8f99" opacity=".55"/><rect x="1.6" y="56.16" width="1.5" height="1.4" fill="#8a8f99" opacity=".8"/><rect x="4" y="56.36" width="6.5" height="1" fill="#8a8f99" opacity=".55"/><rect x="1.6" y="60.29" width="1.5" height="1.4" fill="#8a8f99" opacity=".8"/><rect x="4" y="60.49" width="10" height="1" fill="#8a8f99" opacity=".55"/><rect x="1.6" y="64.42" width="1.5" height="1.4" fill="#8a8f99" opacity=".8"/><rect x="4" y="64.62" width="6" height="1" fill="#8a8f99" opacity=".55"/><rect x="1.6" y="68.55" width="1.5" height="1.4" fill="#8a8f99" opacity=".8"/><rect x="4" y="68.75" width="6.5" height="1" fill="#8a8f99" opacity=".55"/><rect x="1.6" y="72.68" width="1.5" height="1.4" fill="#8a8f99" opacity=".8"/><rect x="4" y="72.88" width="5" height="1" fill="#8a8f99" opacity=".55"/><rect x="19.80" y="6.10" width="22" height="5" fill="#fff"/><rect x="19.80" y="6.10" width="5" height="5" rx=".4" fill="#e91e63"/><rect x="21.40" y="7.60" width="1.8" height="2" fill="#fff" opacity=".85"/><rect x="26.00" y="7.10" width="6" height=".8" fill="#999" opacity=".6"/><rect x="26.00" y="8.80" width="4.5" height="1.1" fill="#333" opacity=".75"/><rect x="43.55" y="6.10" width="22" height="5" fill="#fff"/><rect x="43.55" y="6.10" width="5" height="5" rx=".4" fill="#5fae1d"/><rect x="45.15" y="7.60" width="1.8" height="2" fill="#fff" opacity=".85"/><rect x="49.75" y="7.10" width="6" height=".8" fill="#999" opacity=".6"/><rect x="49.75" y="8.80" width="4.5" height="1.1" fill="#333" opacity=".75"/><rect x="67.30" y="6.10" width="22" height="5" fill="#fff"/><rect x="67.30" y="6.10" width="5" height="5" rx=".4" fill="#5fae1d"/><rect x="68.90" y="7.60" width="1.8" height="2" fill="#fff" opacity=".85"/><rect x="73.50" y="7.10" width="5" height=".8" fill="#999" opacity=".6"/><rect x="73.50" y="8.80" width="4.5" height="1.1" fill="#333" opacity=".75"/><rect x="91.05" y="6.10" width="22" height="5" fill="#fff"/><rect x="91.05" y="6.10" width="5" height="5" rx=".4" fill="#5fae1d"/><rect x="92.65" y="7.60" width="1.8" height="2" fill="#fff" opacity=".85"/><rect x="97.25" y="7.10" width="9" height=".8" fill="#999" opacity=".6"/><rect x="97.25" y="8.80" width="4.5" height="1.1" fill="#333" opacity=".75"/><rect x="114.80" y="6.10" width="22" height="5" fill="#fff"/><rect x="114.80" y="6.10" width="5" height="5" rx=".4" fill="#5fae1d"/><rect x="116.40" y="7.60" width="1.8" height="2" fill="#fff" opacity=".85"/><rect x="121.00" y="7.10" width="8" height=".8" fill="#999" opacity=".6"/><rect x="121.00" y="8.80" width="4.5" height="1.1" fill="#333" opacity=".75"/><rect x="19.80" y="12.45" width="22" height="5" fill="#fff"/><rect x="19.80" y="12.45" width="5" height="5" rx=".4" fill="#5fae1d"/><rect x="21.40" y="13.95" width="1.8" height="2" fill="#fff" opacity=".85"/><rect x="26.00" y="13.45" width="10" height=".8" fill="#999" opacity=".6"/><rect x="26.00" y="15.15" width="4.5" height="1.1" fill="#333" opacity=".75"/><rect x="43.55" y="12.45" width="22" height="5" fill="#fff"/><rect x="43.55" y="12.45" width="5" height="5" rx=".4" fill="#5fae1d"/><rect x="45.15" y="13.95" width="1.8" height="2" fill="#fff" opacity=".85"/><rect x="49.75" y="13.45" width="10" height=".8" fill="#999" opacity=".6"/><rect x="49.75" y="15.15" width="4.5" height="1.1" fill="#333" opacity=".75"/><rect x="67.30" y="12.45" width="22" height="5" fill="#fff"/><rect x="67.30" y="12.45" width="5" height="5" rx=".4" fill="#5fae1d"/><rect x="68.90" y="13.95" width="1.8" height="2" fill="#fff" opacity=".85"/><rect x="73.50" y="13.45" width="10" height=".8" fill="#999" opacity=".6"/><rect x="73.50" y="15.15" width="4.5" height="1.1" fill="#333" opacity=".75"/><rect x="91.05" y="12.45" width="22" height="5" fill="#fff"/><rect x="91.05" y="12.45" width="5" height="5" rx=".4" fill="#5fae1d"/><rect x="92.65" y="13.95" width="1.8" height="2" fill="#fff" opacity=".85"/><rect x="97.25" y="13.45" width="10" height=".8" fill="#999" opacity=".6"/><rect x="97.25" y="15.15" width="4.5" height="1.1" fill="#333" opacity=".75"/><rect x="114.80" y="12.45" width="22" height="5" fill="#fff"/><rect x="114.80" y="12.45" width="5" height="5" rx=".4" fill="#f7931e"/><rect x="116.40" y="13.95" width="1.8" height="2" fill="#fff" opacity=".85"/><rect x="121.00" y="13.45" width="7" height=".8" fill="#999" opacity=".6"/><rect x="121.00" y="15.15" width="4.5" height="1.1" fill="#333" opacity=".75"/><rect x="19.8" y="19.2" width="69" height="29.8" fill="#fff"/><rect x="21" y="20.6" width="30" height=".9" fill="#777" opacity=".6"/><rect x="45" y="24.9" width="4" height="1.3" rx=".5" fill="#4bc0c0"/><rect x="49.6" y="25.1" width="3" height=".8" fill="#aaa" opacity=".6"/><rect x="54.3" y="24.9" width="4.3" height="1.3" rx=".5" fill="#ff5c85"/><rect x="59.2" y="25.1" width="3.5" height=".8" fill="#aaa" opacity=".6"/><rect x="21.8" y="26.80" width="2.8" height=".8" fill="#888" opacity=".55"/><rect x="21.8" y="29.85" width="2.8" height=".8" fill="#888" opacity=".55"/><rect x="21.8" y="32.90" width="2.8" height=".8" fill="#888" opacity=".55"/><rect x="21.8" y="35.95" width="2.8" height=".8" fill="#888" opacity=".55"/><rect x="21.8" y="39.00" width="2.8" height=".8" fill="#888" opacity=".55"/><rect x="21.8" y="42.05" width="2.8" height=".8" fill="#888" opacity=".55"/><rect x="24.60" y="46.6" width="2" height=".8" fill="#888" opacity=".5"/><rect x="30.15" y="46.6" width="2" height=".8" fill="#888" opacity=".5"/><rect x="35.70" y="46.6" width="2" height=".8" fill="#888" opacity=".5"/><rect x="41.25" y="46.6" width="2" height=".8" fill="#888" opacity=".5"/><rect x="46.80" y="46.6" width="2" height=".8" fill="#888" opacity=".5"/><rect x="52.35" y="46.6" width="2" height=".8" fill="#888" opacity=".5"/><rect x="57.90" y="46.6" width="2" height=".8" fill="#888" opacity=".5"/><rect x="63.45" y="46.6" width="2" height=".8" fill="#888" opacity=".5"/><rect x="69.00" y="46.6" width="2" height=".8" fill="#888" opacity=".5"/><rect x="74.55" y="46.6" width="2" height=".8" fill="#888" opacity=".5"/><rect x="80.10" y="46.6" width="2" height=".8" fill="#888" opacity=".5"/><rect x="85.65" y="46.6" width="2" height=".8" fill="#888" opacity=".5"/><path d="M25 27.20H87 M25 30.25H87 M25 33.30H87 M25 36.35H87 M25 39.40H87 M25 42.45H87 M25.60 26.5V45.6 M31.15 26.5V45.6 M36.70 26.5V45.6 M42.25 26.5V45.6 M47.80 26.5V45.6 M53.35 26.5V45.6 M58.90 26.5V45.6 M64.45 26.5V45.6 M70.00 26.5V45.6 M75.55 26.5V45.6 M81.10 26.5V45.6 M86.65 26.5V45.6" stroke="#e9e9ee" stroke-width=".25" fill="none"/><path d="M25.6 45.5H53.3C56 45.5 57 28 59 28S62 45.5 64.4 45.5H70C75 45.5 78 38.6 81 38.6S84.5 42 86.6 45.5" fill="none" stroke="#ff6b8e" stroke-width=".7"/><path d="M25.6 45.6H70C75 45.6 78 39.6 81 39.6S84.5 42.5 86.6 45.6" fill="none" stroke="#4bc0c0" stroke-width=".55" opacity=".9"/><rect x="90.8" y="19.2" width="45.4" height="29.8" fill="#fff"/><rect x="92" y="20.6" width="22" height=".9" fill="#777" opacity=".6"/><rect x="97.2" y="25" width="4" height="1.2" rx=".4" fill="#ff5c85"/><rect x="101.8" y="25.2" width="3.2" height=".8" fill="#aaa" opacity=".6"/><rect x="105" y="25" width="4" height="1.2" rx=".4" fill="#ff9f40"/><rect x="109.6" y="25.2" width="3.2" height=".8" fill="#aaa" opacity=".6"/><rect x="113.6" y="25" width="4" height="1.2" rx=".4" fill="#ffcd56"/><rect x="118.19999999999999" y="25.2" width="3.2" height=".8" fill="#aaa" opacity=".6"/><rect x="121.5" y="25" width="4" height="1.2" rx=".4" fill="#4bc0c0"/><rect x="126.1" y="25.2" width="3.2" height=".8" fill="#aaa" opacity=".6"/><rect x="99.5" y="27.2" width="4" height="1.2" rx=".4" fill="#9966ff"/><rect x="104.1" y="27.4" width="3.2" height=".8" fill="#aaa" opacity=".6"/><rect x="110.5" y="27.2" width="4" height="1.2" rx=".4" fill="#36a2eb"/><rect x="115.1" y="27.4" width="3.2" height=".8" fill="#aaa" opacity=".6"/><rect x="101.8" y="29.4" width="4" height="1.2" rx=".4" fill="#e91e63"/><rect x="106.39999999999999" y="29.599999999999998" width="3.2" height=".8" fill="#aaa" opacity=".6"/><rect x="113.4" y="29.4" width="4" height="1.2" rx=".4" fill="#5fae1d"/><rect x="118.0" y="29.599999999999998" width="3.2" height=".8" fill="#aaa" opacity=".6"/><path d="M96.50 47.90A16.9 16.9 0 0 1 96.66 45.55L106.17 46.88A7.3 7.3 0 0 0 106.10 47.90z" fill="#ff5c85"/><path d="M96.66 45.55A16.9 16.9 0 0 1 97.33 42.68L106.46 45.64A7.3 7.3 0 0 0 106.17 46.88z" fill="#ff9f40"/><path d="M97.33 42.68A16.9 16.9 0 0 1 123.80 34.58L117.89 42.15A7.3 7.3 0 0 0 106.46 45.64z" fill="#fbc94f"/><path d="M123.80 34.58A16.9 16.9 0 0 1 124.71 35.34L118.28 42.48A7.3 7.3 0 0 0 117.89 42.15z" fill="#4bc0c0"/><path d="M124.71 35.34A16.9 16.9 0 0 1 125.76 36.37L118.74 42.92A7.3 7.3 0 0 0 118.28 42.48z" fill="#6aa5ee"/><path d="M125.76 36.37A16.9 16.9 0 0 1 130.30 47.90L120.70 47.90A7.3 7.3 0 0 0 118.74 42.92z" fill="#e5195f"/><rect x="19.8" y="51.1" width="92.3" height="32" fill="#fff"/><rect x="21" y="52.6" width="8" height=".9" fill="#777" opacity=".6"/><rect x="21.2" y="57.4" width="12.6" height="2.5" rx=".5" fill="#222"/><rect x="98" y="57.4" width="13.4" height="2.5" rx=".5" fill="#333"/><rect x="51" y="58" width="29" height="1.2" fill="#444" opacity=".75"/><rect x="86" y="62.8" width="11.9" height="20.2" fill="#fcf8e3"/><rect x="22" y="68.05" width="2.5" height=".8" fill="#888" opacity=".5"/><rect x="22" y="72.10" width="2.5" height=".8" fill="#888" opacity=".5"/><rect x="22" y="76.15" width="2.5" height=".8" fill="#888" opacity=".5"/><rect x="22" y="80.20" width="2.5" height=".8" fill="#888" opacity=".5"/><rect x="22" y="84.25" width="2.5" height=".8" fill="#888" opacity=".5"/><rect x="29.00" y="61.6" width="5.5" height=".7" fill="#999" opacity=".5"/><rect x="41.00" y="61.6" width="5.5" height=".7" fill="#999" opacity=".5"/><rect x="53.00" y="61.6" width="5.5" height=".7" fill="#999" opacity=".5"/><rect x="65.00" y="61.6" width="5.5" height=".7" fill="#999" opacity=".5"/><rect x="77.00" y="61.6" width="5.5" height=".7" fill="#999" opacity=".5"/><rect x="89.00" y="61.6" width="5.5" height=".7" fill="#999" opacity=".5"/><rect x="101.00" y="61.6" width="5.5" height=".7" fill="#999" opacity=".5"/><path d="M26.00 61.2V83 M38.00 61.2V83 M50.00 61.2V83 M62.00 61.2V83 M74.00 61.2V83 M86.00 61.2V83 M98.00 61.2V83 M110.00 61.2V83 M21 62.80H110.5 M21 66.85H110.5 M21 70.90H110.5 M21 74.95H110.5 M21 79.00H110.5 M21 83.05H110.5" stroke="#e3e3e8" stroke-width=".25" fill="none"/><rect x="114.8" y="51.80" width="21.4" height="5" fill="#fff"/><rect x="114.8" y="51.80" width="5" height="5" rx=".4" fill="#f7931e"/><rect x="116.4" y="53.20" width="1.8" height="2.2" fill="#fff" opacity=".85"/><rect x="121" y="52.80" width="4" height=".8" fill="#999" opacity=".6"/><rect x="121" y="54.60" width="1.4" height="1.1" fill="#333" opacity=".75"/><rect x="114.8" y="58.15" width="21.4" height="5" fill="#fff"/><rect x="114.8" y="58.15" width="5" height="5" rx=".4" fill="#f7931e"/><rect x="116.4" y="59.55" width="1.8" height="2.2" fill="#fff" opacity=".85"/><rect x="121" y="59.15" width="4" height=".8" fill="#999" opacity=".6"/><rect x="121" y="60.95" width="1.4" height="1.1" fill="#333" opacity=".75"/><rect x="114.8" y="64.50" width="21.4" height="5" fill="#fff"/><rect x="114.8" y="64.50" width="5" height="5" rx=".4" fill="#f7931e"/><rect x="116.4" y="65.90" width="1.8" height="2.2" fill="#fff" opacity=".85"/><rect x="121" y="65.50" width="6" height=".8" fill="#999" opacity=".6"/><rect x="121" y="67.30" width="1.4" height="1.1" fill="#333" opacity=".75"/><rect x="114.8" y="70.85" width="21.4" height="5" fill="#fff"/><rect x="114.8" y="70.85" width="5" height="5" rx=".4" fill="#f7931e"/><rect x="116.4" y="72.25" width="1.8" height="2.2" fill="#fff" opacity=".85"/><rect x="121" y="71.85" width="7" height=".8" fill="#999" opacity=".6"/><rect x="121" y="73.65" width="1.4" height="1.1" fill="#333" opacity=".75"/><rect x="114.8" y="77.20" width="21.4" height="5" fill="#fff"/><rect x="114.8" y="77.20" width="5" height="5" rx=".4" fill="#f7931e"/><rect x="116.4" y="78.60" width="1.8" height="2.2" fill="#fff" opacity=".85"/><rect x="121" y="78.20" width="7" height=".8" fill="#999" opacity=".6"/><rect x="121" y="80.00" width="1.4" height="1.1" fill="#333" opacity=".75"/></svg><div class="abs th" style="left:605px;top:640px;width:154px;height:96px"></div><svg class="i" style="left:610px;top:645px;width:144px;height:86.5px;overflow:hidden" viewBox="0 0 138 83" preserveAspectRatio="none"><rect width="138" height="83" fill="#f1f3f9"/><rect width="18.6" height="83" fill="#ffffff"/><rect width="138" height="4.7" fill="#a50d1e"/><rect x="1.2" y="1.6" width="1.6" height="1.6" fill="#e31063"/><rect x="3.2" y="1.7" width="12.5" height="1.4" rx=".5" fill="#f5d90a"/><rect x="20" y="1.8" width="1.2" height="1.2" fill="#fff" opacity=".9"/><rect x="23" y="1.6" width="13" height="1.5" fill="#fff" opacity=".85"/><rect x="104" y="1.2" width="20" height="2.4" rx="1.2" fill="#fff" opacity=".9"/><rect x="127" y="1.5" width="1.6" height="1.7" fill="#fff" opacity=".8"/><rect x="131" y="1.5" width="1.6" height="1.7" fill="#fff" opacity=".8"/><rect x="135" y="1.4" width="1.8" height="1.9" fill="#f0b0a0" opacity=".9"/><rect x="1.6" y="6.60" width="1.5" height="1.4" fill="#666" opacity=".8"/><rect x="4" y="6.80" width="11" height="1" fill="#666" opacity=".55"/><rect x="1.6" y="10.73" width="1.5" height="1.4" fill="#666" opacity=".8"/><rect x="4" y="10.93" width="9.5" height="1" fill="#666" opacity=".55"/><rect x="1.6" y="14.86" width="1.5" height="1.4" fill="#666" opacity=".8"/><rect x="4" y="15.06" width="6.5" height="1" fill="#666" opacity=".55"/><rect x="1.6" y="18.99" width="1.5" height="1.4" fill="#666" opacity=".8"/><rect x="4" y="19.19" width="6.5" height="1" fill="#666" opacity=".55"/><rect x="1.6" y="23.12" width="1.5" height="1.4" fill="#666" opacity=".8"/><rect x="4" y="23.32" width="6.5" height="1" fill="#666" opacity=".55"/><rect x="1.6" y="27.25" width="1.5" height="1.4" fill="#666" opacity=".8"/><rect x="4" y="27.45" width="11" height="1" fill="#666" opacity=".55"/><rect x="1.6" y="31.38" width="1.5" height="1.4" fill="#666" opacity=".8"/><rect x="4" y="31.58" width="7" height="1" fill="#666" opacity=".55"/><rect x="1.6" y="35.51" width="1.5" height="1.4" fill="#666" opacity=".8"/><rect x="4" y="35.71" width="9" height="1" fill="#666" opacity=".55"/><rect x="1.6" y="39.64" width="1.5" height="1.4" fill="#666" opacity=".8"/><rect x="4" y="39.84" width="4.5" height="1" fill="#666" opacity=".55"/><rect x="1.6" y="43.77" width="1.5" height="1.4" fill="#666" opacity=".8"/><rect x="4" y="43.97" width="7" height="1" fill="#666" opacity=".55"/><rect x="1.6" y="47.90" width="1.5" height="1.4" fill="#666" opacity=".8"/><rect x="4" y="48.10" width="6.5" height="1" fill="#666" opacity=".55"/><rect x="1.6" y="52.03" width="1.5" height="1.4" fill="#666" opacity=".8"/><rect x="4" y="52.23" width="9.5" height="1" fill="#666" opacity=".55"/><rect x="1.6" y="56.16" width="1.5" height="1.4" fill="#666" opacity=".8"/><rect x="4" y="56.36" width="6.5" height="1" fill="#666" opacity=".55"/><rect x="1.6" y="60.29" width="1.5" height="1.4" fill="#666" opacity=".8"/><rect x="4" y="60.49" width="10" height="1" fill="#666" opacity=".55"/><rect x="1.6" y="64.42" width="1.5" height="1.4" fill="#666" opacity=".8"/><rect x="4" y="64.62" width="6" height="1" fill="#666" opacity=".55"/><rect x="1.6" y="68.55" width="1.5" height="1.4" fill="#666" opacity=".8"/><rect x="4" y="68.75" width="6.5" height="1" fill="#666" opacity=".55"/><rect x="1.6" y="72.68" width="1.5" height="1.4" fill="#666" opacity=".8"/><rect x="4" y="72.88" width="5" height="1" fill="#666" opacity=".55"/><rect x="19.80" y="6.10" width="22" height="5" fill="#fff"/><rect x="19.80" y="6.10" width="5" height="5" rx=".4" fill="#e91e63"/><rect x="21.40" y="7.60" width="1.8" height="2" fill="#fff" opacity=".85"/><rect x="26.00" y="7.10" width="6" height=".8" fill="#999" opacity=".6"/><rect x="26.00" y="8.80" width="4.5" height="1.1" fill="#333" opacity=".75"/><rect x="43.55" y="6.10" width="22" height="5" fill="#fff"/><rect x="43.55" y="6.10" width="5" height="5" rx=".4" fill="#5fae1d"/><rect x="45.15" y="7.60" width="1.8" height="2" fill="#fff" opacity=".85"/><rect x="49.75" y="7.10" width="6" height=".8" fill="#999" opacity=".6"/><rect x="49.75" y="8.80" width="4.5" height="1.1" fill="#333" opacity=".75"/><rect x="67.30" y="6.10" width="22" height="5" fill="#fff"/><rect x="67.30" y="6.10" width="5" height="5" rx=".4" fill="#5fae1d"/><rect x="68.90" y="7.60" width="1.8" height="2" fill="#fff" opacity=".85"/><rect x="73.50" y="7.10" width="5" height=".8" fill="#999" opacity=".6"/><rect x="73.50" y="8.80" width="4.5" height="1.1" fill="#333" opacity=".75"/><rect x="91.05" y="6.10" width="22" height="5" fill="#fff"/><rect x="91.05" y="6.10" width="5" height="5" rx=".4" fill="#5fae1d"/><rect x="92.65" y="7.60" width="1.8" height="2" fill="#fff" opacity=".85"/><rect x="97.25" y="7.10" width="9" height=".8" fill="#999" opacity=".6"/><rect x="97.25" y="8.80" width="4.5" height="1.1" fill="#333" opacity=".75"/><rect x="114.80" y="6.10" width="22" height="5" fill="#fff"/><rect x="114.80" y="6.10" width="5" height="5" rx=".4" fill="#5fae1d"/><rect x="116.40" y="7.60" width="1.8" height="2" fill="#fff" opacity=".85"/><rect x="121.00" y="7.10" width="8" height=".8" fill="#999" opacity=".6"/><rect x="121.00" y="8.80" width="4.5" height="1.1" fill="#333" opacity=".75"/><rect x="19.80" y="12.45" width="22" height="5" fill="#fff"/><rect x="19.80" y="12.45" width="5" height="5" rx=".4" fill="#5fae1d"/><rect x="21.40" y="13.95" width="1.8" height="2" fill="#fff" opacity=".85"/><rect x="26.00" y="13.45" width="10" height=".8" fill="#999" opacity=".6"/><rect x="26.00" y="15.15" width="4.5" height="1.1" fill="#333" opacity=".75"/><rect x="43.55" y="12.45" width="22" height="5" fill="#fff"/><rect x="43.55" y="12.45" width="5" height="5" rx=".4" fill="#5fae1d"/><rect x="45.15" y="13.95" width="1.8" height="2" fill="#fff" opacity=".85"/><rect x="49.75" y="13.45" width="10" height=".8" fill="#999" opacity=".6"/><rect x="49.75" y="15.15" width="4.5" height="1.1" fill="#333" opacity=".75"/><rect x="67.30" y="12.45" width="22" height="5" fill="#fff"/><rect x="67.30" y="12.45" width="5" height="5" rx=".4" fill="#5fae1d"/><rect x="68.90" y="13.95" width="1.8" height="2" fill="#fff" opacity=".85"/><rect x="73.50" y="13.45" width="10" height=".8" fill="#999" opacity=".6"/><rect x="73.50" y="15.15" width="4.5" height="1.1" fill="#333" opacity=".75"/><rect x="91.05" y="12.45" width="22" height="5" fill="#fff"/><rect x="91.05" y="12.45" width="5" height="5" rx=".4" fill="#5fae1d"/><rect x="92.65" y="13.95" width="1.8" height="2" fill="#fff" opacity=".85"/><rect x="97.25" y="13.45" width="10" height=".8" fill="#999" opacity=".6"/><rect x="97.25" y="15.15" width="4.5" height="1.1" fill="#333" opacity=".75"/><rect x="114.80" y="12.45" width="22" height="5" fill="#fff"/><rect x="114.80" y="12.45" width="5" height="5" rx=".4" fill="#f7931e"/><rect x="116.40" y="13.95" width="1.8" height="2" fill="#fff" opacity=".85"/><rect x="121.00" y="13.45" width="7" height=".8" fill="#999" opacity=".6"/><rect x="121.00" y="15.15" width="4.5" height="1.1" fill="#333" opacity=".75"/><rect x="19.8" y="19.2" width="69" height="29.8" fill="#fff"/><rect x="21" y="20.6" width="30" height=".9" fill="#777" opacity=".6"/><rect x="45" y="24.9" width="4" height="1.3" rx=".5" fill="#4bc0c0"/><rect x="49.6" y="25.1" width="3" height=".8" fill="#aaa" opacity=".6"/><rect x="54.3" y="24.9" width="4.3" height="1.3" rx=".5" fill="#ff5c85"/><rect x="59.2" y="25.1" width="3.5" height=".8" fill="#aaa" opacity=".6"/><rect x="21.8" y="26.80" width="2.8" height=".8" fill="#888" opacity=".55"/><rect x="21.8" y="29.85" width="2.8" height=".8" fill="#888" opacity=".55"/><rect x="21.8" y="32.90" width="2.8" height=".8" fill="#888" opacity=".55"/><rect x="21.8" y="35.95" width="2.8" height=".8" fill="#888" opacity=".55"/><rect x="21.8" y="39.00" width="2.8" height=".8" fill="#888" opacity=".55"/><rect x="21.8" y="42.05" width="2.8" height=".8" fill="#888" opacity=".55"/><rect x="24.60" y="46.6" width="2" height=".8" fill="#888" opacity=".5"/><rect x="30.15" y="46.6" width="2" height=".8" fill="#888" opacity=".5"/><rect x="35.70" y="46.6" width="2" height=".8" fill="#888" opacity=".5"/><rect x="41.25" y="46.6" width="2" height=".8" fill="#888" opacity=".5"/><rect x="46.80" y="46.6" width="2" height=".8" fill="#888" opacity=".5"/><rect x="52.35" y="46.6" width="2" height=".8" fill="#888" opacity=".5"/><rect x="57.90" y="46.6" width="2" height=".8" fill="#888" opacity=".5"/><rect x="63.45" y="46.6" width="2" height=".8" fill="#888" opacity=".5"/><rect x="69.00" y="46.6" width="2" height=".8" fill="#888" opacity=".5"/><rect x="74.55" y="46.6" width="2" height=".8" fill="#888" opacity=".5"/><rect x="80.10" y="46.6" width="2" height=".8" fill="#888" opacity=".5"/><rect x="85.65" y="46.6" width="2" height=".8" fill="#888" opacity=".5"/><path d="M25 27.20H87 M25 30.25H87 M25 33.30H87 M25 36.35H87 M25 39.40H87 M25 42.45H87 M25.60 26.5V45.6 M31.15 26.5V45.6 M36.70 26.5V45.6 M42.25 26.5V45.6 M47.80 26.5V45.6 M53.35 26.5V45.6 M58.90 26.5V45.6 M64.45 26.5V45.6 M70.00 26.5V45.6 M75.55 26.5V45.6 M81.10 26.5V45.6 M86.65 26.5V45.6" stroke="#e9e9ee" stroke-width=".25" fill="none"/><path d="M25.6 45.5H53.3C56 45.5 57 28 59 28S62 45.5 64.4 45.5H70C75 45.5 78 38.6 81 38.6S84.5 42 86.6 45.5" fill="none" stroke="#ff6b8e" stroke-width=".7"/><path d="M25.6 45.6H70C75 45.6 78 39.6 81 39.6S84.5 42.5 86.6 45.6" fill="none" stroke="#4bc0c0" stroke-width=".55" opacity=".9"/><rect x="90.8" y="19.2" width="45.4" height="29.8" fill="#fff"/><rect x="92" y="20.6" width="22" height=".9" fill="#777" opacity=".6"/><rect x="97.2" y="25" width="4" height="1.2" rx=".4" fill="#ff5c85"/><rect x="101.8" y="25.2" width="3.2" height=".8" fill="#aaa" opacity=".6"/><rect x="105" y="25" width="4" height="1.2" rx=".4" fill="#ff9f40"/><rect x="109.6" y="25.2" width="3.2" height=".8" fill="#aaa" opacity=".6"/><rect x="113.6" y="25" width="4" height="1.2" rx=".4" fill="#ffcd56"/><rect x="118.19999999999999" y="25.2" width="3.2" height=".8" fill="#aaa" opacity=".6"/><rect x="121.5" y="25" width="4" height="1.2" rx=".4" fill="#4bc0c0"/><rect x="126.1" y="25.2" width="3.2" height=".8" fill="#aaa" opacity=".6"/><rect x="99.5" y="27.2" width="4" height="1.2" rx=".4" fill="#9966ff"/><rect x="104.1" y="27.4" width="3.2" height=".8" fill="#aaa" opacity=".6"/><rect x="110.5" y="27.2" width="4" height="1.2" rx=".4" fill="#36a2eb"/><rect x="115.1" y="27.4" width="3.2" height=".8" fill="#aaa" opacity=".6"/><rect x="101.8" y="29.4" width="4" height="1.2" rx=".4" fill="#e91e63"/><rect x="106.39999999999999" y="29.599999999999998" width="3.2" height=".8" fill="#aaa" opacity=".6"/><rect x="113.4" y="29.4" width="4" height="1.2" rx=".4" fill="#5fae1d"/><rect x="118.0" y="29.599999999999998" width="3.2" height=".8" fill="#aaa" opacity=".6"/><path d="M96.50 47.90A16.9 16.9 0 0 1 96.66 45.55L106.17 46.88A7.3 7.3 0 0 0 106.10 47.90z" fill="#ff5c85"/><path d="M96.66 45.55A16.9 16.9 0 0 1 97.33 42.68L106.46 45.64A7.3 7.3 0 0 0 106.17 46.88z" fill="#ff9f40"/><path d="M97.33 42.68A16.9 16.9 0 0 1 123.80 34.58L117.89 42.15A7.3 7.3 0 0 0 106.46 45.64z" fill="#fbc94f"/><path d="M123.80 34.58A16.9 16.9 0 0 1 124.71 35.34L118.28 42.48A7.3 7.3 0 0 0 117.89 42.15z" fill="#4bc0c0"/><path d="M124.71 35.34A16.9 16.9 0 0 1 125.76 36.37L118.74 42.92A7.3 7.3 0 0 0 118.28 42.48z" fill="#6aa5ee"/><path d="M125.76 36.37A16.9 16.9 0 0 1 130.30 47.90L120.70 47.90A7.3 7.3 0 0 0 118.74 42.92z" fill="#e5195f"/><rect x="19.8" y="51.1" width="92.3" height="32" fill="#fff"/><rect x="21" y="52.6" width="8" height=".9" fill="#777" opacity=".6"/><rect x="21.2" y="57.4" width="12.6" height="2.5" rx=".5" fill="#222"/><rect x="98" y="57.4" width="13.4" height="2.5" rx=".5" fill="#333"/><rect x="51" y="58" width="29" height="1.2" fill="#444" opacity=".75"/><rect x="86" y="62.8" width="11.9" height="20.2" fill="#fcf8e3"/><rect x="22" y="68.05" width="2.5" height=".8" fill="#888" opacity=".5"/><rect x="22" y="72.10" width="2.5" height=".8" fill="#888" opacity=".5"/><rect x="22" y="76.15" width="2.5" height=".8" fill="#888" opacity=".5"/><rect x="22" y="80.20" width="2.5" height=".8" fill="#888" opacity=".5"/><rect x="22" y="84.25" width="2.5" height=".8" fill="#888" opacity=".5"/><rect x="29.00" y="61.6" width="5.5" height=".7" fill="#999" opacity=".5"/><rect x="41.00" y="61.6" width="5.5" height=".7" fill="#999" opacity=".5"/><rect x="53.00" y="61.6" width="5.5" height=".7" fill="#999" opacity=".5"/><rect x="65.00" y="61.6" width="5.5" height=".7" fill="#999" opacity=".5"/><rect x="77.00" y="61.6" width="5.5" height=".7" fill="#999" opacity=".5"/><rect x="89.00" y="61.6" width="5.5" height=".7" fill="#999" opacity=".5"/><rect x="101.00" y="61.6" width="5.5" height=".7" fill="#999" opacity=".5"/><path d="M26.00 61.2V83 M38.00 61.2V83 M50.00 61.2V83 M62.00 61.2V83 M74.00 61.2V83 M86.00 61.2V83 M98.00 61.2V83 M110.00 61.2V83 M21 62.80H110.5 M21 66.85H110.5 M21 70.90H110.5 M21 74.95H110.5 M21 79.00H110.5 M21 83.05H110.5" stroke="#e3e3e8" stroke-width=".25" fill="none"/><rect x="114.8" y="51.80" width="21.4" height="5" fill="#fff"/><rect x="114.8" y="51.80" width="5" height="5" rx=".4" fill="#f7931e"/><rect x="116.4" y="53.20" width="1.8" height="2.2" fill="#fff" opacity=".85"/><rect x="121" y="52.80" width="4" height=".8" fill="#999" opacity=".6"/><rect x="121" y="54.60" width="1.4" height="1.1" fill="#333" opacity=".75"/><rect x="114.8" y="58.15" width="21.4" height="5" fill="#fff"/><rect x="114.8" y="58.15" width="5" height="5" rx=".4" fill="#f7931e"/><rect x="116.4" y="59.55" width="1.8" height="2.2" fill="#fff" opacity=".85"/><rect x="121" y="59.15" width="4" height=".8" fill="#999" opacity=".6"/><rect x="121" y="60.95" width="1.4" height="1.1" fill="#333" opacity=".75"/><rect x="114.8" y="64.50" width="21.4" height="5" fill="#fff"/><rect x="114.8" y="64.50" width="5" height="5" rx=".4" fill="#f7931e"/><rect x="116.4" y="65.90" width="1.8" height="2.2" fill="#fff" opacity=".85"/><rect x="121" y="65.50" width="6" height=".8" fill="#999" opacity=".6"/><rect x="121" y="67.30" width="1.4" height="1.1" fill="#333" opacity=".75"/><rect x="114.8" y="70.85" width="21.4" height="5" fill="#fff"/><rect x="114.8" y="70.85" width="5" height="5" rx=".4" fill="#f7931e"/><rect x="116.4" y="72.25" width="1.8" height="2.2" fill="#fff" opacity=".85"/><rect x="121" y="71.85" width="7" height=".8" fill="#999" opacity=".6"/><rect x="121" y="73.65" width="1.4" height="1.1" fill="#333" opacity=".75"/><rect x="114.8" y="77.20" width="21.4" height="5" fill="#fff"/><rect x="114.8" y="77.20" width="5" height="5" rx=".4" fill="#f7931e"/><rect x="116.4" y="78.60" width="1.8" height="2.2" fill="#fff" opacity=".85"/><rect x="121" y="78.20" width="7" height=".8" fill="#999" opacity=".6"/><rect x="121" y="80.00" width="1.4" height="1.1" fill="#333" opacity=".75"/></svg><div class="abs th" style="left:779px;top:640px;width:154px;height:96px"></div><svg class="i" style="left:784px;top:645px;width:144px;height:86.5px;overflow:hidden" viewBox="0 0 138 83" preserveAspectRatio="none"><rect width="138" height="83" fill="#f1f3f9"/><rect width="18.6" height="83" fill="#1b2038"/><rect width="138" height="4.7" fill="#171b30"/><rect x="1.2" y="1.6" width="1.6" height="1.6" fill="#e31063"/><rect x="3.2" y="1.7" width="12.5" height="1.4" rx=".5" fill="#f5d90a"/><rect x="20" y="1.8" width="1.2" height="1.2" fill="#fff" opacity=".9"/><rect x="23" y="1.6" width="13" height="1.5" fill="#fff" opacity=".85"/><rect x="104" y="1.2" width="20" height="2.4" rx="1.2" fill="#fff" opacity=".9"/><rect x="127" y="1.5" width="1.6" height="1.7" fill="#fff" opacity=".8"/><rect x="131" y="1.5" width="1.6" height="1.7" fill="#fff" opacity=".8"/><rect x="135" y="1.4" width="1.8" height="1.9" fill="#f0b0a0" opacity=".9"/><rect x="1.6" y="6.60" width="1.5" height="1.4" fill="#dfe3ee" opacity=".8"/><rect x="4" y="6.80" width="11" height="1" fill="#dfe3ee" opacity=".55"/><rect x="1.6" y="10.73" width="1.5" height="1.4" fill="#dfe3ee" opacity=".8"/><rect x="4" y="10.93" width="9.5" height="1" fill="#dfe3ee" opacity=".55"/><rect x="1.6" y="14.86" width="1.5" height="1.4" fill="#dfe3ee" opacity=".8"/><rect x="4" y="15.06" width="6.5" height="1" fill="#dfe3ee" opacity=".55"/><rect x="1.6" y="18.99" width="1.5" height="1.4" fill="#dfe3ee" opacity=".8"/><rect x="4" y="19.19" width="6.5" height="1" fill="#dfe3ee" opacity=".55"/><rect x="1.6" y="23.12" width="1.5" height="1.4" fill="#dfe3ee" opacity=".8"/><rect x="4" y="23.32" width="6.5" height="1" fill="#dfe3ee" opacity=".55"/><rect x="1.6" y="27.25" width="1.5" height="1.4" fill="#dfe3ee" opacity=".8"/><rect x="4" y="27.45" width="11" height="1" fill="#dfe3ee" opacity=".55"/><rect x="1.6" y="31.38" width="1.5" height="1.4" fill="#dfe3ee" opacity=".8"/><rect x="4" y="31.58" width="7" height="1" fill="#dfe3ee" opacity=".55"/><rect x="1.6" y="35.51" width="1.5" height="1.4" fill="#dfe3ee" opacity=".8"/><rect x="4" y="35.71" width="9" height="1" fill="#dfe3ee" opacity=".55"/><rect x="1.6" y="39.64" width="1.5" height="1.4" fill="#dfe3ee" opacity=".8"/><rect x="4" y="39.84" width="4.5" height="1" fill="#dfe3ee" opacity=".55"/><rect x="1.6" y="43.77" width="1.5" height="1.4" fill="#dfe3ee" opacity=".8"/><rect x="4" y="43.97" width="7" height="1" fill="#dfe3ee" opacity=".55"/><rect x="1.6" y="47.90" width="1.5" height="1.4" fill="#dfe3ee" opacity=".8"/><rect x="4" y="48.10" width="6.5" height="1" fill="#dfe3ee" opacity=".55"/><rect x="1.6" y="52.03" width="1.5" height="1.4" fill="#dfe3ee" opacity=".8"/><rect x="4" y="52.23" width="9.5" height="1" fill="#dfe3ee" opacity=".55"/><rect x="1.6" y="56.16" width="1.5" height="1.4" fill="#dfe3ee" opacity=".8"/><rect x="4" y="56.36" width="6.5" height="1" fill="#dfe3ee" opacity=".55"/><rect x="1.6" y="60.29" width="1.5" height="1.4" fill="#dfe3ee" opacity=".8"/><rect x="4" y="60.49" width="10" height="1" fill="#dfe3ee" opacity=".55"/><rect x="1.6" y="64.42" width="1.5" height="1.4" fill="#dfe3ee" opacity=".8"/><rect x="4" y="64.62" width="6" height="1" fill="#dfe3ee" opacity=".55"/><rect x="1.6" y="68.55" width="1.5" height="1.4" fill="#dfe3ee" opacity=".8"/><rect x="4" y="68.75" width="6.5" height="1" fill="#dfe3ee" opacity=".55"/><rect x="1.6" y="72.68" width="1.5" height="1.4" fill="#dfe3ee" opacity=".8"/><rect x="4" y="72.88" width="5" height="1" fill="#dfe3ee" opacity=".55"/><rect x="19.80" y="6.10" width="22" height="5" fill="#fff"/><rect x="19.80" y="6.10" width="5" height="5" rx=".4" fill="#e91e63"/><rect x="21.40" y="7.60" width="1.8" height="2" fill="#fff" opacity=".85"/><rect x="26.00" y="7.10" width="6" height=".8" fill="#999" opacity=".6"/><rect x="26.00" y="8.80" width="4.5" height="1.1" fill="#333" opacity=".75"/><rect x="43.55" y="6.10" width="22" height="5" fill="#fff"/><rect x="43.55" y="6.10" width="5" height="5" rx=".4" fill="#5fae1d"/><rect x="45.15" y="7.60" width="1.8" height="2" fill="#fff" opacity=".85"/><rect x="49.75" y="7.10" width="6" height=".8" fill="#999" opacity=".6"/><rect x="49.75" y="8.80" width="4.5" height="1.1" fill="#333" opacity=".75"/><rect x="67.30" y="6.10" width="22" height="5" fill="#fff"/><rect x="67.30" y="6.10" width="5" height="5" rx=".4" fill="#5fae1d"/><rect x="68.90" y="7.60" width="1.8" height="2" fill="#fff" opacity=".85"/><rect x="73.50" y="7.10" width="5" height=".8" fill="#999" opacity=".6"/><rect x="73.50" y="8.80" width="4.5" height="1.1" fill="#333" opacity=".75"/><rect x="91.05" y="6.10" width="22" height="5" fill="#fff"/><rect x="91.05" y="6.10" width="5" height="5" rx=".4" fill="#5fae1d"/><rect x="92.65" y="7.60" width="1.8" height="2" fill="#fff" opacity=".85"/><rect x="97.25" y="7.10" width="9" height=".8" fill="#999" opacity=".6"/><rect x="97.25" y="8.80" width="4.5" height="1.1" fill="#333" opacity=".75"/><rect x="114.80" y="6.10" width="22" height="5" fill="#fff"/><rect x="114.80" y="6.10" width="5" height="5" rx=".4" fill="#5fae1d"/><rect x="116.40" y="7.60" width="1.8" height="2" fill="#fff" opacity=".85"/><rect x="121.00" y="7.10" width="8" height=".8" fill="#999" opacity=".6"/><rect x="121.00" y="8.80" width="4.5" height="1.1" fill="#333" opacity=".75"/><rect x="19.80" y="12.45" width="22" height="5" fill="#fff"/><rect x="19.80" y="12.45" width="5" height="5" rx=".4" fill="#5fae1d"/><rect x="21.40" y="13.95" width="1.8" height="2" fill="#fff" opacity=".85"/><rect x="26.00" y="13.45" width="10" height=".8" fill="#999" opacity=".6"/><rect x="26.00" y="15.15" width="4.5" height="1.1" fill="#333" opacity=".75"/><rect x="43.55" y="12.45" width="22" height="5" fill="#fff"/><rect x="43.55" y="12.45" width="5" height="5" rx=".4" fill="#5fae1d"/><rect x="45.15" y="13.95" width="1.8" height="2" fill="#fff" opacity=".85"/><rect x="49.75" y="13.45" width="10" height=".8" fill="#999" opacity=".6"/><rect x="49.75" y="15.15" width="4.5" height="1.1" fill="#333" opacity=".75"/><rect x="67.30" y="12.45" width="22" height="5" fill="#fff"/><rect x="67.30" y="12.45" width="5" height="5" rx=".4" fill="#5fae1d"/><rect x="68.90" y="13.95" width="1.8" height="2" fill="#fff" opacity=".85"/><rect x="73.50" y="13.45" width="10" height=".8" fill="#999" opacity=".6"/><rect x="73.50" y="15.15" width="4.5" height="1.1" fill="#333" opacity=".75"/><rect x="91.05" y="12.45" width="22" height="5" fill="#fff"/><rect x="91.05" y="12.45" width="5" height="5" rx=".4" fill="#5fae1d"/><rect x="92.65" y="13.95" width="1.8" height="2" fill="#fff" opacity=".85"/><rect x="97.25" y="13.45" width="10" height=".8" fill="#999" opacity=".6"/><rect x="97.25" y="15.15" width="4.5" height="1.1" fill="#333" opacity=".75"/><rect x="114.80" y="12.45" width="22" height="5" fill="#fff"/><rect x="114.80" y="12.45" width="5" height="5" rx=".4" fill="#f7931e"/><rect x="116.40" y="13.95" width="1.8" height="2" fill="#fff" opacity=".85"/><rect x="121.00" y="13.45" width="7" height=".8" fill="#999" opacity=".6"/><rect x="121.00" y="15.15" width="4.5" height="1.1" fill="#333" opacity=".75"/><rect x="19.8" y="19.2" width="69" height="29.8" fill="#fff"/><rect x="21" y="20.6" width="30" height=".9" fill="#777" opacity=".6"/><rect x="45" y="24.9" width="4" height="1.3" rx=".5" fill="#4bc0c0"/><rect x="49.6" y="25.1" width="3" height=".8" fill="#aaa" opacity=".6"/><rect x="54.3" y="24.9" width="4.3" height="1.3" rx=".5" fill="#ff5c85"/><rect x="59.2" y="25.1" width="3.5" height=".8" fill="#aaa" opacity=".6"/><rect x="21.8" y="26.80" width="2.8" height=".8" fill="#888" opacity=".55"/><rect x="21.8" y="29.85" width="2.8" height=".8" fill="#888" opacity=".55"/><rect x="21.8" y="32.90" width="2.8" height=".8" fill="#888" opacity=".55"/><rect x="21.8" y="35.95" width="2.8" height=".8" fill="#888" opacity=".55"/><rect x="21.8" y="39.00" width="2.8" height=".8" fill="#888" opacity=".55"/><rect x="21.8" y="42.05" width="2.8" height=".8" fill="#888" opacity=".55"/><rect x="24.60" y="46.6" width="2" height=".8" fill="#888" opacity=".5"/><rect x="30.15" y="46.6" width="2" height=".8" fill="#888" opacity=".5"/><rect x="35.70" y="46.6" width="2" height=".8" fill="#888" opacity=".5"/><rect x="41.25" y="46.6" width="2" height=".8" fill="#888" opacity=".5"/><rect x="46.80" y="46.6" width="2" height=".8" fill="#888" opacity=".5"/><rect x="52.35" y="46.6" width="2" height=".8" fill="#888" opacity=".5"/><rect x="57.90" y="46.6" width="2" height=".8" fill="#888" opacity=".5"/><rect x="63.45" y="46.6" width="2" height=".8" fill="#888" opacity=".5"/><rect x="69.00" y="46.6" width="2" height=".8" fill="#888" opacity=".5"/><rect x="74.55" y="46.6" width="2" height=".8" fill="#888" opacity=".5"/><rect x="80.10" y="46.6" width="2" height=".8" fill="#888" opacity=".5"/><rect x="85.65" y="46.6" width="2" height=".8" fill="#888" opacity=".5"/><path d="M25 27.20H87 M25 30.25H87 M25 33.30H87 M25 36.35H87 M25 39.40H87 M25 42.45H87 M25.60 26.5V45.6 M31.15 26.5V45.6 M36.70 26.5V45.6 M42.25 26.5V45.6 M47.80 26.5V45.6 M53.35 26.5V45.6 M58.90 26.5V45.6 M64.45 26.5V45.6 M70.00 26.5V45.6 M75.55 26.5V45.6 M81.10 26.5V45.6 M86.65 26.5V45.6" stroke="#e9e9ee" stroke-width=".25" fill="none"/><path d="M25.6 45.5H53.3C56 45.5 57 28 59 28S62 45.5 64.4 45.5H70C75 45.5 78 38.6 81 38.6S84.5 42 86.6 45.5" fill="none" stroke="#ff6b8e" stroke-width=".7"/><path d="M25.6 45.6H70C75 45.6 78 39.6 81 39.6S84.5 42.5 86.6 45.6" fill="none" stroke="#4bc0c0" stroke-width=".55" opacity=".9"/><rect x="90.8" y="19.2" width="45.4" height="29.8" fill="#fff"/><rect x="92" y="20.6" width="22" height=".9" fill="#777" opacity=".6"/><rect x="97.2" y="25" width="4" height="1.2" rx=".4" fill="#ff5c85"/><rect x="101.8" y="25.2" width="3.2" height=".8" fill="#aaa" opacity=".6"/><rect x="105" y="25" width="4" height="1.2" rx=".4" fill="#ff9f40"/><rect x="109.6" y="25.2" width="3.2" height=".8" fill="#aaa" opacity=".6"/><rect x="113.6" y="25" width="4" height="1.2" rx=".4" fill="#ffcd56"/><rect x="118.19999999999999" y="25.2" width="3.2" height=".8" fill="#aaa" opacity=".6"/><rect x="121.5" y="25" width="4" height="1.2" rx=".4" fill="#4bc0c0"/><rect x="126.1" y="25.2" width="3.2" height=".8" fill="#aaa" opacity=".6"/><rect x="99.5" y="27.2" width="4" height="1.2" rx=".4" fill="#9966ff"/><rect x="104.1" y="27.4" width="3.2" height=".8" fill="#aaa" opacity=".6"/><rect x="110.5" y="27.2" width="4" height="1.2" rx=".4" fill="#36a2eb"/><rect x="115.1" y="27.4" width="3.2" height=".8" fill="#aaa" opacity=".6"/><rect x="101.8" y="29.4" width="4" height="1.2" rx=".4" fill="#e91e63"/><rect x="106.39999999999999" y="29.599999999999998" width="3.2" height=".8" fill="#aaa" opacity=".6"/><rect x="113.4" y="29.4" width="4" height="1.2" rx=".4" fill="#5fae1d"/><rect x="118.0" y="29.599999999999998" width="3.2" height=".8" fill="#aaa" opacity=".6"/><path d="M96.50 47.90A16.9 16.9 0 0 1 96.66 45.55L106.17 46.88A7.3 7.3 0 0 0 106.10 47.90z" fill="#ff5c85"/><path d="M96.66 45.55A16.9 16.9 0 0 1 97.33 42.68L106.46 45.64A7.3 7.3 0 0 0 106.17 46.88z" fill="#ff9f40"/><path d="M97.33 42.68A16.9 16.9 0 0 1 123.80 34.58L117.89 42.15A7.3 7.3 0 0 0 106.46 45.64z" fill="#fbc94f"/><path d="M123.80 34.58A16.9 16.9 0 0 1 124.71 35.34L118.28 42.48A7.3 7.3 0 0 0 117.89 42.15z" fill="#4bc0c0"/><path d="M124.71 35.34A16.9 16.9 0 0 1 125.76 36.37L118.74 42.92A7.3 7.3 0 0 0 118.28 42.48z" fill="#6aa5ee"/><path d="M125.76 36.37A16.9 16.9 0 0 1 130.30 47.90L120.70 47.90A7.3 7.3 0 0 0 118.74 42.92z" fill="#e5195f"/><rect x="19.8" y="51.1" width="92.3" height="32" fill="#fff"/><rect x="21" y="52.6" width="8" height=".9" fill="#777" opacity=".6"/><rect x="21.2" y="57.4" width="12.6" height="2.5" rx=".5" fill="#222"/><rect x="98" y="57.4" width="13.4" height="2.5" rx=".5" fill="#333"/><rect x="51" y="58" width="29" height="1.2" fill="#444" opacity=".75"/><rect x="86" y="62.8" width="11.9" height="20.2" fill="#fcf8e3"/><rect x="22" y="68.05" width="2.5" height=".8" fill="#888" opacity=".5"/><rect x="22" y="72.10" width="2.5" height=".8" fill="#888" opacity=".5"/><rect x="22" y="76.15" width="2.5" height=".8" fill="#888" opacity=".5"/><rect x="22" y="80.20" width="2.5" height=".8" fill="#888" opacity=".5"/><rect x="22" y="84.25" width="2.5" height=".8" fill="#888" opacity=".5"/><rect x="29.00" y="61.6" width="5.5" height=".7" fill="#999" opacity=".5"/><rect x="41.00" y="61.6" width="5.5" height=".7" fill="#999" opacity=".5"/><rect x="53.00" y="61.6" width="5.5" height=".7" fill="#999" opacity=".5"/><rect x="65.00" y="61.6" width="5.5" height=".7" fill="#999" opacity=".5"/><rect x="77.00" y="61.6" width="5.5" height=".7" fill="#999" opacity=".5"/><rect x="89.00" y="61.6" width="5.5" height=".7" fill="#999" opacity=".5"/><rect x="101.00" y="61.6" width="5.5" height=".7" fill="#999" opacity=".5"/><path d="M26.00 61.2V83 M38.00 61.2V83 M50.00 61.2V83 M62.00 61.2V83 M74.00 61.2V83 M86.00 61.2V83 M98.00 61.2V83 M110.00 61.2V83 M21 62.80H110.5 M21 66.85H110.5 M21 70.90H110.5 M21 74.95H110.5 M21 79.00H110.5 M21 83.05H110.5" stroke="#e3e3e8" stroke-width=".25" fill="none"/><rect x="114.8" y="51.80" width="21.4" height="5" fill="#fff"/><rect x="114.8" y="51.80" width="5" height="5" rx=".4" fill="#f7931e"/><rect x="116.4" y="53.20" width="1.8" height="2.2" fill="#fff" opacity=".85"/><rect x="121" y="52.80" width="4" height=".8" fill="#999" opacity=".6"/><rect x="121" y="54.60" width="1.4" height="1.1" fill="#333" opacity=".75"/><rect x="114.8" y="58.15" width="21.4" height="5" fill="#fff"/><rect x="114.8" y="58.15" width="5" height="5" rx=".4" fill="#f7931e"/><rect x="116.4" y="59.55" width="1.8" height="2.2" fill="#fff" opacity=".85"/><rect x="121" y="59.15" width="4" height=".8" fill="#999" opacity=".6"/><rect x="121" y="60.95" width="1.4" height="1.1" fill="#333" opacity=".75"/><rect x="114.8" y="64.50" width="21.4" height="5" fill="#fff"/><rect x="114.8" y="64.50" width="5" height="5" rx=".4" fill="#f7931e"/><rect x="116.4" y="65.90" width="1.8" height="2.2" fill="#fff" opacity=".85"/><rect x="121" y="65.50" width="6" height=".8" fill="#999" opacity=".6"/><rect x="121" y="67.30" width="1.4" height="1.1" fill="#333" opacity=".75"/><rect x="114.8" y="70.85" width="21.4" height="5" fill="#fff"/><rect x="114.8" y="70.85" width="5" height="5" rx=".4" fill="#f7931e"/><rect x="116.4" y="72.25" width="1.8" height="2.2" fill="#fff" opacity=".85"/><rect x="121" y="71.85" width="7" height=".8" fill="#999" opacity=".6"/><rect x="121" y="73.65" width="1.4" height="1.1" fill="#333" opacity=".75"/><rect x="114.8" y="77.20" width="21.4" height="5" fill="#fff"/><rect x="114.8" y="77.20" width="5" height="5" rx=".4" fill="#f7931e"/><rect x="116.4" y="78.60" width="1.8" height="2.2" fill="#fff" opacity=".85"/><rect x="121" y="78.20" width="7" height=".8" fill="#999" opacity=".6"/><rect x="121" y="80.00" width="1.4" height="1.1" fill="#333" opacity=".75"/></svg><div class="abs th" style="left:953px;top:640px;width:154px;height:96px"></div><svg class="i" style="left:958px;top:645px;width:144px;height:86.5px;overflow:hidden" viewBox="0 0 138 83" preserveAspectRatio="none"><rect width="138" height="83" fill="#f1f3f9"/><rect width="18.6" height="83" fill="#f7f8fa"/><rect width="138" height="4.7" fill="#2c3745"/><rect x="1.2" y="1.6" width="1.6" height="1.6" fill="#e31063"/><rect x="3.2" y="1.7" width="12.5" height="1.4" rx=".5" fill="#f5d90a"/><rect x="20" y="1.8" width="1.2" height="1.2" fill="#fff" opacity=".9"/><rect x="23" y="1.6" width="13" height="1.5" fill="#fff" opacity=".85"/><rect x="104" y="1.2" width="20" height="2.4" rx="1.2" fill="#fff" opacity=".9"/><rect x="127" y="1.5" width="1.6" height="1.7" fill="#fff" opacity=".8"/><rect x="131" y="1.5" width="1.6" height="1.7" fill="#fff" opacity=".8"/><rect x="135" y="1.4" width="1.8" height="1.9" fill="#f0b0a0" opacity=".9"/><rect x="1.6" y="6.60" width="1.5" height="1.4" fill="#555" opacity=".8"/><rect x="4" y="6.80" width="11" height="1" fill="#555" opacity=".55"/><rect x="1.6" y="10.73" width="1.5" height="1.4" fill="#555" opacity=".8"/><rect x="4" y="10.93" width="9.5" height="1" fill="#555" opacity=".55"/><rect x="1.6" y="14.86" width="1.5" height="1.4" fill="#555" opacity=".8"/><rect x="4" y="15.06" width="6.5" height="1" fill="#555" opacity=".55"/><rect x="1.6" y="18.99" width="1.5" height="1.4" fill="#555" opacity=".8"/><rect x="4" y="19.19" width="6.5" height="1" fill="#555" opacity=".55"/><rect x="1.6" y="23.12" width="1.5" height="1.4" fill="#555" opacity=".8"/><rect x="4" y="23.32" width="6.5" height="1" fill="#555" opacity=".55"/><rect x="1.6" y="27.25" width="1.5" height="1.4" fill="#555" opacity=".8"/><rect x="4" y="27.45" width="11" height="1" fill="#555" opacity=".55"/><rect x="1.6" y="31.38" width="1.5" height="1.4" fill="#555" opacity=".8"/><rect x="4" y="31.58" width="7" height="1" fill="#555" opacity=".55"/><rect x="1.6" y="35.51" width="1.5" height="1.4" fill="#555" opacity=".8"/><rect x="4" y="35.71" width="9" height="1" fill="#555" opacity=".55"/><rect x="1.6" y="39.64" width="1.5" height="1.4" fill="#555" opacity=".8"/><rect x="4" y="39.84" width="4.5" height="1" fill="#555" opacity=".55"/><rect x="1.6" y="43.77" width="1.5" height="1.4" fill="#555" opacity=".8"/><rect x="4" y="43.97" width="7" height="1" fill="#555" opacity=".55"/><rect x="1.6" y="47.90" width="1.5" height="1.4" fill="#555" opacity=".8"/><rect x="4" y="48.10" width="6.5" height="1" fill="#555" opacity=".55"/><rect x="1.6" y="52.03" width="1.5" height="1.4" fill="#555" opacity=".8"/><rect x="4" y="52.23" width="9.5" height="1" fill="#555" opacity=".55"/><rect x="1.6" y="56.16" width="1.5" height="1.4" fill="#555" opacity=".8"/><rect x="4" y="56.36" width="6.5" height="1" fill="#555" opacity=".55"/><rect x="1.6" y="60.29" width="1.5" height="1.4" fill="#555" opacity=".8"/><rect x="4" y="60.49" width="10" height="1" fill="#555" opacity=".55"/><rect x="1.6" y="64.42" width="1.5" height="1.4" fill="#555" opacity=".8"/><rect x="4" y="64.62" width="6" height="1" fill="#555" opacity=".55"/><rect x="1.6" y="68.55" width="1.5" height="1.4" fill="#555" opacity=".8"/><rect x="4" y="68.75" width="6.5" height="1" fill="#555" opacity=".55"/><rect x="1.6" y="72.68" width="1.5" height="1.4" fill="#555" opacity=".8"/><rect x="4" y="72.88" width="5" height="1" fill="#555" opacity=".55"/><rect x="19.80" y="6.10" width="22" height="5" fill="#fff"/><rect x="19.80" y="6.10" width="5" height="5" rx=".4" fill="#e91e63"/><rect x="21.40" y="7.60" width="1.8" height="2" fill="#fff" opacity=".85"/><rect x="26.00" y="7.10" width="6" height=".8" fill="#999" opacity=".6"/><rect x="26.00" y="8.80" width="4.5" height="1.1" fill="#333" opacity=".75"/><rect x="43.55" y="6.10" width="22" height="5" fill="#fff"/><rect x="43.55" y="6.10" width="5" height="5" rx=".4" fill="#5fae1d"/><rect x="45.15" y="7.60" width="1.8" height="2" fill="#fff" opacity=".85"/><rect x="49.75" y="7.10" width="6" height=".8" fill="#999" opacity=".6"/><rect x="49.75" y="8.80" width="4.5" height="1.1" fill="#333" opacity=".75"/><rect x="67.30" y="6.10" width="22" height="5" fill="#fff"/><rect x="67.30" y="6.10" width="5" height="5" rx=".4" fill="#5fae1d"/><rect x="68.90" y="7.60" width="1.8" height="2" fill="#fff" opacity=".85"/><rect x="73.50" y="7.10" width="5" height=".8" fill="#999" opacity=".6"/><rect x="73.50" y="8.80" width="4.5" height="1.1" fill="#333" opacity=".75"/><rect x="91.05" y="6.10" width="22" height="5" fill="#fff"/><rect x="91.05" y="6.10" width="5" height="5" rx=".4" fill="#5fae1d"/><rect x="92.65" y="7.60" width="1.8" height="2" fill="#fff" opacity=".85"/><rect x="97.25" y="7.10" width="9" height=".8" fill="#999" opacity=".6"/><rect x="97.25" y="8.80" width="4.5" height="1.1" fill="#333" opacity=".75"/><rect x="114.80" y="6.10" width="22" height="5" fill="#fff"/><rect x="114.80" y="6.10" width="5" height="5" rx=".4" fill="#5fae1d"/><rect x="116.40" y="7.60" width="1.8" height="2" fill="#fff" opacity=".85"/><rect x="121.00" y="7.10" width="8" height=".8" fill="#999" opacity=".6"/><rect x="121.00" y="8.80" width="4.5" height="1.1" fill="#333" opacity=".75"/><rect x="19.80" y="12.45" width="22" height="5" fill="#fff"/><rect x="19.80" y="12.45" width="5" height="5" rx=".4" fill="#5fae1d"/><rect x="21.40" y="13.95" width="1.8" height="2" fill="#fff" opacity=".85"/><rect x="26.00" y="13.45" width="10" height=".8" fill="#999" opacity=".6"/><rect x="26.00" y="15.15" width="4.5" height="1.1" fill="#333" opacity=".75"/><rect x="43.55" y="12.45" width="22" height="5" fill="#fff"/><rect x="43.55" y="12.45" width="5" height="5" rx=".4" fill="#5fae1d"/><rect x="45.15" y="13.95" width="1.8" height="2" fill="#fff" opacity=".85"/><rect x="49.75" y="13.45" width="10" height=".8" fill="#999" opacity=".6"/><rect x="49.75" y="15.15" width="4.5" height="1.1" fill="#333" opacity=".75"/><rect x="67.30" y="12.45" width="22" height="5" fill="#fff"/><rect x="67.30" y="12.45" width="5" height="5" rx=".4" fill="#5fae1d"/><rect x="68.90" y="13.95" width="1.8" height="2" fill="#fff" opacity=".85"/><rect x="73.50" y="13.45" width="10" height=".8" fill="#999" opacity=".6"/><rect x="73.50" y="15.15" width="4.5" height="1.1" fill="#333" opacity=".75"/><rect x="91.05" y="12.45" width="22" height="5" fill="#fff"/><rect x="91.05" y="12.45" width="5" height="5" rx=".4" fill="#5fae1d"/><rect x="92.65" y="13.95" width="1.8" height="2" fill="#fff" opacity=".85"/><rect x="97.25" y="13.45" width="10" height=".8" fill="#999" opacity=".6"/><rect x="97.25" y="15.15" width="4.5" height="1.1" fill="#333" opacity=".75"/><rect x="114.80" y="12.45" width="22" height="5" fill="#fff"/><rect x="114.80" y="12.45" width="5" height="5" rx=".4" fill="#f7931e"/><rect x="116.40" y="13.95" width="1.8" height="2" fill="#fff" opacity=".85"/><rect x="121.00" y="13.45" width="7" height=".8" fill="#999" opacity=".6"/><rect x="121.00" y="15.15" width="4.5" height="1.1" fill="#333" opacity=".75"/><rect x="19.8" y="19.2" width="69" height="29.8" fill="#fff"/><rect x="21" y="20.6" width="30" height=".9" fill="#777" opacity=".6"/><rect x="45" y="24.9" width="4" height="1.3" rx=".5" fill="#4bc0c0"/><rect x="49.6" y="25.1" width="3" height=".8" fill="#aaa" opacity=".6"/><rect x="54.3" y="24.9" width="4.3" height="1.3" rx=".5" fill="#ff5c85"/><rect x="59.2" y="25.1" width="3.5" height=".8" fill="#aaa" opacity=".6"/><rect x="21.8" y="26.80" width="2.8" height=".8" fill="#888" opacity=".55"/><rect x="21.8" y="29.85" width="2.8" height=".8" fill="#888" opacity=".55"/><rect x="21.8" y="32.90" width="2.8" height=".8" fill="#888" opacity=".55"/><rect x="21.8" y="35.95" width="2.8" height=".8" fill="#888" opacity=".55"/><rect x="21.8" y="39.00" width="2.8" height=".8" fill="#888" opacity=".55"/><rect x="21.8" y="42.05" width="2.8" height=".8" fill="#888" opacity=".55"/><rect x="24.60" y="46.6" width="2" height=".8" fill="#888" opacity=".5"/><rect x="30.15" y="46.6" width="2" height=".8" fill="#888" opacity=".5"/><rect x="35.70" y="46.6" width="2" height=".8" fill="#888" opacity=".5"/><rect x="41.25" y="46.6" width="2" height=".8" fill="#888" opacity=".5"/><rect x="46.80" y="46.6" width="2" height=".8" fill="#888" opacity=".5"/><rect x="52.35" y="46.6" width="2" height=".8" fill="#888" opacity=".5"/><rect x="57.90" y="46.6" width="2" height=".8" fill="#888" opacity=".5"/><rect x="63.45" y="46.6" width="2" height=".8" fill="#888" opacity=".5"/><rect x="69.00" y="46.6" width="2" height=".8" fill="#888" opacity=".5"/><rect x="74.55" y="46.6" width="2" height=".8" fill="#888" opacity=".5"/><rect x="80.10" y="46.6" width="2" height=".8" fill="#888" opacity=".5"/><rect x="85.65" y="46.6" width="2" height=".8" fill="#888" opacity=".5"/><path d="M25 27.20H87 M25 30.25H87 M25 33.30H87 M25 36.35H87 M25 39.40H87 M25 42.45H87 M25.60 26.5V45.6 M31.15 26.5V45.6 M36.70 26.5V45.6 M42.25 26.5V45.6 M47.80 26.5V45.6 M53.35 26.5V45.6 M58.90 26.5V45.6 M64.45 26.5V45.6 M70.00 26.5V45.6 M75.55 26.5V45.6 M81.10 26.5V45.6 M86.65 26.5V45.6" stroke="#e9e9ee" stroke-width=".25" fill="none"/><path d="M25.6 45.5H53.3C56 45.5 57 28 59 28S62 45.5 64.4 45.5H70C75 45.5 78 38.6 81 38.6S84.5 42 86.6 45.5" fill="none" stroke="#ff6b8e" stroke-width=".7"/><path d="M25.6 45.6H70C75 45.6 78 39.6 81 39.6S84.5 42.5 86.6 45.6" fill="none" stroke="#4bc0c0" stroke-width=".55" opacity=".9"/><rect x="90.8" y="19.2" width="45.4" height="29.8" fill="#fff"/><rect x="92" y="20.6" width="22" height=".9" fill="#777" opacity=".6"/><rect x="97.2" y="25" width="4" height="1.2" rx=".4" fill="#ff5c85"/><rect x="101.8" y="25.2" width="3.2" height=".8" fill="#aaa" opacity=".6"/><rect x="105" y="25" width="4" height="1.2" rx=".4" fill="#ff9f40"/><rect x="109.6" y="25.2" width="3.2" height=".8" fill="#aaa" opacity=".6"/><rect x="113.6" y="25" width="4" height="1.2" rx=".4" fill="#ffcd56"/><rect x="118.19999999999999" y="25.2" width="3.2" height=".8" fill="#aaa" opacity=".6"/><rect x="121.5" y="25" width="4" height="1.2" rx=".4" fill="#4bc0c0"/><rect x="126.1" y="25.2" width="3.2" height=".8" fill="#aaa" opacity=".6"/><rect x="99.5" y="27.2" width="4" height="1.2" rx=".4" fill="#9966ff"/><rect x="104.1" y="27.4" width="3.2" height=".8" fill="#aaa" opacity=".6"/><rect x="110.5" y="27.2" width="4" height="1.2" rx=".4" fill="#36a2eb"/><rect x="115.1" y="27.4" width="3.2" height=".8" fill="#aaa" opacity=".6"/><rect x="101.8" y="29.4" width="4" height="1.2" rx=".4" fill="#e91e63"/><rect x="106.39999999999999" y="29.599999999999998" width="3.2" height=".8" fill="#aaa" opacity=".6"/><rect x="113.4" y="29.4" width="4" height="1.2" rx=".4" fill="#5fae1d"/><rect x="118.0" y="29.599999999999998" width="3.2" height=".8" fill="#aaa" opacity=".6"/><path d="M96.50 47.90A16.9 16.9 0 0 1 96.66 45.55L106.17 46.88A7.3 7.3 0 0 0 106.10 47.90z" fill="#ff5c85"/><path d="M96.66 45.55A16.9 16.9 0 0 1 97.33 42.68L106.46 45.64A7.3 7.3 0 0 0 106.17 46.88z" fill="#ff9f40"/><path d="M97.33 42.68A16.9 16.9 0 0 1 123.80 34.58L117.89 42.15A7.3 7.3 0 0 0 106.46 45.64z" fill="#fbc94f"/><path d="M123.80 34.58A16.9 16.9 0 0 1 124.71 35.34L118.28 42.48A7.3 7.3 0 0 0 117.89 42.15z" fill="#4bc0c0"/><path d="M124.71 35.34A16.9 16.9 0 0 1 125.76 36.37L118.74 42.92A7.3 7.3 0 0 0 118.28 42.48z" fill="#6aa5ee"/><path d="M125.76 36.37A16.9 16.9 0 0 1 130.30 47.90L120.70 47.90A7.3 7.3 0 0 0 118.74 42.92z" fill="#e5195f"/><rect x="19.8" y="51.1" width="92.3" height="32" fill="#fff"/><rect x="21" y="52.6" width="8" height=".9" fill="#777" opacity=".6"/><rect x="21.2" y="57.4" width="12.6" height="2.5" rx=".5" fill="#222"/><rect x="98" y="57.4" width="13.4" height="2.5" rx=".5" fill="#333"/><rect x="51" y="58" width="29" height="1.2" fill="#444" opacity=".75"/><rect x="86" y="62.8" width="11.9" height="20.2" fill="#fcf8e3"/><rect x="22" y="68.05" width="2.5" height=".8" fill="#888" opacity=".5"/><rect x="22" y="72.10" width="2.5" height=".8" fill="#888" opacity=".5"/><rect x="22" y="76.15" width="2.5" height=".8" fill="#888" opacity=".5"/><rect x="22" y="80.20" width="2.5" height=".8" fill="#888" opacity=".5"/><rect x="22" y="84.25" width="2.5" height=".8" fill="#888" opacity=".5"/><rect x="29.00" y="61.6" width="5.5" height=".7" fill="#999" opacity=".5"/><rect x="41.00" y="61.6" width="5.5" height=".7" fill="#999" opacity=".5"/><rect x="53.00" y="61.6" width="5.5" height=".7" fill="#999" opacity=".5"/><rect x="65.00" y="61.6" width="5.5" height=".7" fill="#999" opacity=".5"/><rect x="77.00" y="61.6" width="5.5" height=".7" fill="#999" opacity=".5"/><rect x="89.00" y="61.6" width="5.5" height=".7" fill="#999" opacity=".5"/><rect x="101.00" y="61.6" width="5.5" height=".7" fill="#999" opacity=".5"/><path d="M26.00 61.2V83 M38.00 61.2V83 M50.00 61.2V83 M62.00 61.2V83 M74.00 61.2V83 M86.00 61.2V83 M98.00 61.2V83 M110.00 61.2V83 M21 62.80H110.5 M21 66.85H110.5 M21 70.90H110.5 M21 74.95H110.5 M21 79.00H110.5 M21 83.05H110.5" stroke="#e3e3e8" stroke-width=".25" fill="none"/><rect x="114.8" y="51.80" width="21.4" height="5" fill="#fff"/><rect x="114.8" y="51.80" width="5" height="5" rx=".4" fill="#f7931e"/><rect x="116.4" y="53.20" width="1.8" height="2.2" fill="#fff" opacity=".85"/><rect x="121" y="52.80" width="4" height=".8" fill="#999" opacity=".6"/><rect x="121" y="54.60" width="1.4" height="1.1" fill="#333" opacity=".75"/><rect x="114.8" y="58.15" width="21.4" height="5" fill="#fff"/><rect x="114.8" y="58.15" width="5" height="5" rx=".4" fill="#f7931e"/><rect x="116.4" y="59.55" width="1.8" height="2.2" fill="#fff" opacity=".85"/><rect x="121" y="59.15" width="4" height=".8" fill="#999" opacity=".6"/><rect x="121" y="60.95" width="1.4" height="1.1" fill="#333" opacity=".75"/><rect x="114.8" y="64.50" width="21.4" height="5" fill="#fff"/><rect x="114.8" y="64.50" width="5" height="5" rx=".4" fill="#f7931e"/><rect x="116.4" y="65.90" width="1.8" height="2.2" fill="#fff" opacity=".85"/><rect x="121" y="65.50" width="6" height=".8" fill="#999" opacity=".6"/><rect x="121" y="67.30" width="1.4" height="1.1" fill="#333" opacity=".75"/><rect x="114.8" y="70.85" width="21.4" height="5" fill="#fff"/><rect x="114.8" y="70.85" width="5" height="5" rx=".4" fill="#f7931e"/><rect x="116.4" y="72.25" width="1.8" height="2.2" fill="#fff" opacity=".85"/><rect x="121" y="71.85" width="7" height=".8" fill="#999" opacity=".6"/><rect x="121" y="73.65" width="1.4" height="1.1" fill="#333" opacity=".75"/><rect x="114.8" y="77.20" width="21.4" height="5" fill="#fff"/><rect x="114.8" y="77.20" width="5" height="5" rx=".4" fill="#f7931e"/><rect x="116.4" y="78.60" width="1.8" height="2.2" fill="#fff" opacity=".85"/><rect x="121" y="78.20" width="7" height=".8" fill="#999" opacity=".6"/><rect x="121" y="80.00" width="1.4" height="1.1" fill="#333" opacity=".75"/></svg>
<div class="abs box" style="left:1138px;top:65px;width:287px;height:47px"></div>
<div class="abs box" style="left:1138px;top:132px;width:287px;height:47px"></div>
<svg class="i" style="left:1149px;top:80.8px;width:96.97px;height:14.76px" viewBox="0 0 184 28"><path fill="#fdbc12" d="M8 0H179a5 5 0 0 1 5 5V23a5 5 0 0 1-5 5H8z"/><path fill="#e31063" d="M8 0H28V8H36V0H46V28H36V20H28V28H8V20H0V8H8z"/><path fill="#a9dc37" d="M10 2H18V10H26V18H18V26H10V18H2V10H10z"/></svg>
<span class="t" id="t66" style="left:1177.2px;top:83.95px;font-size:8.8px;line-height:8.8px;color:#fff;font-weight:bold;letter-spacing:0.287px;-webkit-text-stroke:.45px #fff;text-shadow:-.7px -.7px 0 #444,.7px -.7px 0 #444,-.7px .7px 0 #444,.7px .7px 0 #444,0 .9px 0 #444,0 -.9px 0 #444,.9px 0 0 #444,-.9px 0 0 #444,.8px 1.1px .6px #333;transform-origin:0 0;transform:scaleX(.78);">SMART HOSPITAL</span>
<svg class="i" style="left:1149px;top:142.8px;width:41.08px;height:25.00px" viewBox="0 0 46 28"><path fill="#e31063" d="M8 0H28V8H36V0H46V28H36V20H28V28H8V20H0V8H8z"/><path fill="#a9dc37" d="M10 2H18V10H26V18H18V26H10V18H2V10H10z"/></svg>
<div class="abs btn" style="left:1327px;top:76px;width:87px;height:25px"></div>
<svg class="i" style="left:1337.2px;top:82.8px;width:13.60px;height:10.90px" viewBox="0.0 -1408.0 1920 1536" preserveAspectRatio="none"><path fill="#fff" transform="scale(1,-1)" d="M640 960C640 1066 554 1152 448 1152C342 1152 256 1066 256 960C256 854 342 768 448 768C554 768 640 854 640 960ZM1664 576 1248 992 736 480 576 640 256 320V128H1664ZM1760 1280C1777 1280 1792 1265 1792 1248V32C1792 15 1777 0 1760 0H160C143 0 128 15 128 32V1248C128 1265 143 1280 160 1280H1760ZM1920 1248C1920 1336 1848 1408 1760 1408H160C72 1408 0 1336 0 1248V32C0 -56 72 -128 160 -128H1760C1848 -128 1920 -56 1920 32Z"/></svg>
<span class="t" id="t67" style="left:1353.4px;top:81.57px;font-size:13.5px;line-height:13.5px;color:#fff;letter-spacing:-0.750px;-webkit-text-stroke:.35px #fff;">Edit Logo</span>
<div class="abs btn" style="left:1294px;top:143px;width:120px;height:25px"></div>
<svg class="i" style="left:1304px;top:149.8px;width:13.60px;height:10.90px" viewBox="0.0 -1408.0 1920 1536" preserveAspectRatio="none"><path fill="#fff" transform="scale(1,-1)" d="M640 960C640 1066 554 1152 448 1152C342 1152 256 1066 256 960C256 854 342 768 448 768C554 768 640 854 640 960ZM1664 576 1248 992 736 480 576 640 256 320V128H1664ZM1760 1280C1777 1280 1792 1265 1792 1248V32C1792 15 1777 0 1760 0H160C143 0 128 15 128 32V1248C128 1265 143 1280 160 1280H1760ZM1920 1248C1920 1336 1848 1408 1760 1408H160C72 1408 0 1336 0 1248V32C0 -56 72 -128 160 -128H1760C1848 -128 1920 -56 1920 32Z"/></svg>
<span class="t" id="t68" style="left:1319.6px;top:148.57px;font-size:13.5px;line-height:13.5px;color:#fff;letter-spacing:-0.697px;-webkit-text-stroke:.35px #fff;">Edit Small Logo</span>
</body></html>
